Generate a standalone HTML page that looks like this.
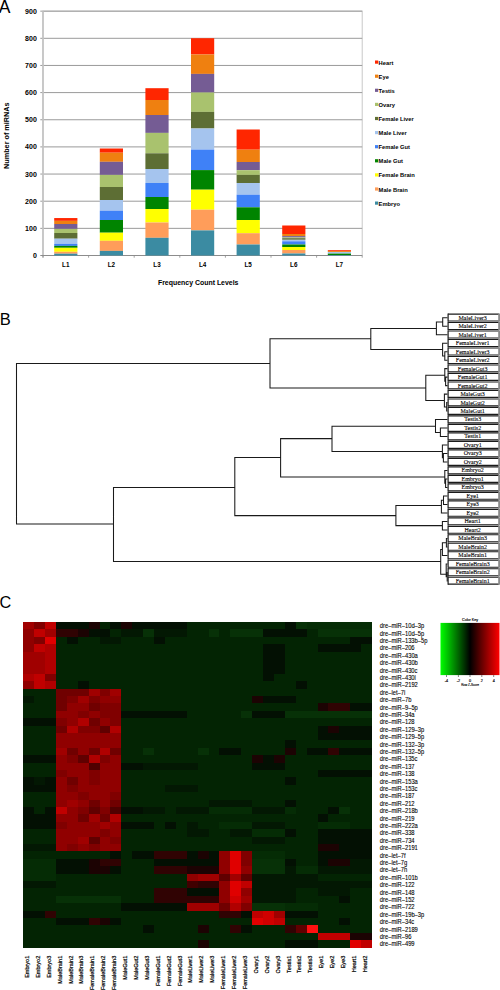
<!DOCTYPE html>
<html><head><meta charset="utf-8"><style>
html,body{margin:0;padding:0;background:#fff;width:500px;height:990px;overflow:hidden}
svg{display:block}
text{font-family:"Liberation Sans",sans-serif;fill:#000}
.b{font-weight:bold}
.sr{font-family:"Liberation Serif",serif}
.r{stroke:#000;stroke-width:0.1px}
.rc{stroke:#000;stroke-width:0.2px}
.ck{stroke:#000;stroke-width:0.15px}
.sr{stroke:#000;stroke-width:0.1px}
</style></head><body>
<svg width="500" height="990" viewBox="0 0 500 990">
<text x="-1.2" y="12.6" font-size="17.5" class="lbl">A</text>
<rect x="43.0" y="11.15" width="319.20" height="244.35" fill="none" stroke="#c8c8c8" stroke-width="1"/>
<line x1="40.3" y1="228.35" x2="362.2" y2="228.35" stroke="#9a9a9a" stroke-width="1"/>
<line x1="40.3" y1="201.20" x2="362.2" y2="201.20" stroke="#9a9a9a" stroke-width="1"/>
<line x1="40.3" y1="174.05" x2="362.2" y2="174.05" stroke="#9a9a9a" stroke-width="1"/>
<line x1="40.3" y1="146.90" x2="362.2" y2="146.90" stroke="#9a9a9a" stroke-width="1"/>
<line x1="40.3" y1="119.75" x2="362.2" y2="119.75" stroke="#9a9a9a" stroke-width="1"/>
<line x1="40.3" y1="92.60" x2="362.2" y2="92.60" stroke="#9a9a9a" stroke-width="1"/>
<line x1="40.3" y1="65.45" x2="362.2" y2="65.45" stroke="#9a9a9a" stroke-width="1"/>
<line x1="40.3" y1="38.30" x2="362.2" y2="38.30" stroke="#9a9a9a" stroke-width="1"/>
<line x1="40.3" y1="11.15" x2="362.2" y2="11.15" stroke="#9a9a9a" stroke-width="1"/>
<line x1="43.0" y1="11.15" x2="43.0" y2="257.50" stroke="#c4c4c4" stroke-width="1.7"/>
<line x1="40.3" y1="255.5" x2="362.2" y2="255.5" stroke="#8c8c8c" stroke-width="1.1"/>
<line x1="43.00" y1="255.5" x2="43.00" y2="257.7" stroke="#8c8c8c" stroke-width="0.8"/>
<line x1="88.60" y1="255.5" x2="88.60" y2="257.7" stroke="#8c8c8c" stroke-width="0.8"/>
<line x1="134.20" y1="255.5" x2="134.20" y2="257.7" stroke="#8c8c8c" stroke-width="0.8"/>
<line x1="179.80" y1="255.5" x2="179.80" y2="257.7" stroke="#8c8c8c" stroke-width="0.8"/>
<line x1="225.40" y1="255.5" x2="225.40" y2="257.7" stroke="#8c8c8c" stroke-width="0.8"/>
<line x1="271.00" y1="255.5" x2="271.00" y2="257.7" stroke="#8c8c8c" stroke-width="0.8"/>
<line x1="316.60" y1="255.5" x2="316.60" y2="257.7" stroke="#8c8c8c" stroke-width="0.8"/>
<line x1="362.20" y1="255.5" x2="362.20" y2="257.7" stroke="#8c8c8c" stroke-width="0.8"/>
<text x="36.8" y="258.00" font-size="7" class="b" text-anchor="end">0</text>
<text x="36.8" y="230.85" font-size="7" class="b" text-anchor="end">100</text>
<text x="36.8" y="203.70" font-size="7" class="b" text-anchor="end">200</text>
<text x="36.8" y="176.55" font-size="7" class="b" text-anchor="end">300</text>
<text x="36.8" y="149.40" font-size="7" class="b" text-anchor="end">400</text>
<text x="36.8" y="122.25" font-size="7" class="b" text-anchor="end">500</text>
<text x="36.8" y="95.10" font-size="7" class="b" text-anchor="end">600</text>
<text x="36.8" y="67.95" font-size="7" class="b" text-anchor="end">700</text>
<text x="36.8" y="40.80" font-size="7" class="b" text-anchor="end">800</text>
<text x="36.8" y="13.65" font-size="7" class="b" text-anchor="end">900</text>
<text transform="translate(8.6,135.7) rotate(-90)" font-size="7.25" class="b" text-anchor="middle">Number of miRNAs</text>
<text x="65.80" y="266.6" font-size="6.3" class="b" text-anchor="middle">L1</text>
<text x="111.40" y="266.6" font-size="6.3" class="b" text-anchor="middle">L2</text>
<text x="157.00" y="266.6" font-size="6.3" class="b" text-anchor="middle">L3</text>
<text x="202.60" y="266.6" font-size="6.3" class="b" text-anchor="middle">L4</text>
<text x="248.20" y="266.6" font-size="6.3" class="b" text-anchor="middle">L5</text>
<text x="293.80" y="266.6" font-size="6.3" class="b" text-anchor="middle">L6</text>
<text x="339.40" y="266.6" font-size="6.3" class="b" text-anchor="middle">L7</text>
<text x="198.2" y="285.2" font-size="6.95" class="b" text-anchor="middle">Frequency Count Levels</text>
<rect x="54.20" y="218.05" width="23.2" height="2.80" fill="#ff2600"/>
<rect x="54.20" y="220.85" width="23.2" height="3.15" fill="#ef8010"/>
<rect x="54.20" y="224.00" width="23.2" height="4.90" fill="#755c94"/>
<rect x="54.20" y="228.90" width="23.2" height="4.10" fill="#a9c26e"/>
<rect x="54.20" y="233.00" width="23.2" height="5.70" fill="#5d6e34"/>
<rect x="54.20" y="238.70" width="23.2" height="5.20" fill="#a5c4ee"/>
<rect x="54.20" y="243.90" width="23.2" height="2.00" fill="#3f81f7"/>
<rect x="54.20" y="245.90" width="23.2" height="1.90" fill="#008400"/>
<rect x="54.20" y="247.80" width="23.2" height="4.00" fill="#ffff00"/>
<rect x="54.20" y="251.80" width="23.2" height="1.90" fill="#ff9d5a"/>
<rect x="54.20" y="253.70" width="23.2" height="1.80" fill="#3b8ba2"/>
<rect x="99.80" y="148.50" width="23.2" height="4.20" fill="#ff2600"/>
<rect x="99.80" y="152.70" width="23.2" height="9.10" fill="#ef8010"/>
<rect x="99.80" y="161.80" width="23.2" height="13.10" fill="#755c94"/>
<rect x="99.80" y="174.90" width="23.2" height="12.10" fill="#a9c26e"/>
<rect x="99.80" y="187.00" width="23.2" height="13.00" fill="#5d6e34"/>
<rect x="99.80" y="200.00" width="23.2" height="10.70" fill="#a5c4ee"/>
<rect x="99.80" y="210.70" width="23.2" height="9.30" fill="#3f81f7"/>
<rect x="99.80" y="220.00" width="23.2" height="12.70" fill="#008400"/>
<rect x="99.80" y="232.70" width="23.2" height="8.10" fill="#ffff00"/>
<rect x="99.80" y="240.80" width="23.2" height="10.10" fill="#ff9d5a"/>
<rect x="99.80" y="250.90" width="23.2" height="4.60" fill="#3b8ba2"/>
<rect x="145.40" y="88.20" width="23.2" height="11.80" fill="#ff2600"/>
<rect x="145.40" y="100.00" width="23.2" height="15.00" fill="#ef8010"/>
<rect x="145.40" y="115.00" width="23.2" height="17.90" fill="#755c94"/>
<rect x="145.40" y="132.90" width="23.2" height="20.40" fill="#a9c26e"/>
<rect x="145.40" y="153.30" width="23.2" height="15.70" fill="#5d6e34"/>
<rect x="145.40" y="169.00" width="23.2" height="14.00" fill="#a5c4ee"/>
<rect x="145.40" y="183.00" width="23.2" height="14.00" fill="#3f81f7"/>
<rect x="145.40" y="197.00" width="23.2" height="12.00" fill="#008400"/>
<rect x="145.40" y="209.00" width="23.2" height="13.50" fill="#ffff00"/>
<rect x="145.40" y="222.50" width="23.2" height="15.30" fill="#ff9d5a"/>
<rect x="145.40" y="237.80" width="23.2" height="17.70" fill="#3b8ba2"/>
<rect x="191.00" y="38.20" width="23.2" height="16.30" fill="#ff2600"/>
<rect x="191.00" y="54.50" width="23.2" height="19.40" fill="#ef8010"/>
<rect x="191.00" y="73.90" width="23.2" height="18.60" fill="#755c94"/>
<rect x="191.00" y="92.50" width="23.2" height="19.40" fill="#a9c26e"/>
<rect x="191.00" y="111.90" width="23.2" height="16.60" fill="#5d6e34"/>
<rect x="191.00" y="128.50" width="23.2" height="21.10" fill="#a5c4ee"/>
<rect x="191.00" y="149.60" width="23.2" height="20.50" fill="#3f81f7"/>
<rect x="191.00" y="170.10" width="23.2" height="19.60" fill="#008400"/>
<rect x="191.00" y="189.70" width="23.2" height="20.00" fill="#ffff00"/>
<rect x="191.00" y="209.70" width="23.2" height="20.70" fill="#ff9d5a"/>
<rect x="191.00" y="230.40" width="23.2" height="25.10" fill="#3b8ba2"/>
<rect x="236.60" y="129.50" width="23.2" height="20.20" fill="#ff2600"/>
<rect x="236.60" y="149.70" width="23.2" height="12.30" fill="#ef8010"/>
<rect x="236.60" y="162.00" width="23.2" height="8.20" fill="#755c94"/>
<rect x="236.60" y="170.20" width="23.2" height="4.70" fill="#a9c26e"/>
<rect x="236.60" y="174.90" width="23.2" height="8.10" fill="#5d6e34"/>
<rect x="236.60" y="183.00" width="23.2" height="11.70" fill="#a5c4ee"/>
<rect x="236.60" y="194.70" width="23.2" height="12.60" fill="#3f81f7"/>
<rect x="236.60" y="207.30" width="23.2" height="12.70" fill="#008400"/>
<rect x="236.60" y="220.00" width="23.2" height="13.20" fill="#ffff00"/>
<rect x="236.60" y="233.20" width="23.2" height="11.30" fill="#ff9d5a"/>
<rect x="236.60" y="244.50" width="23.2" height="11.00" fill="#3b8ba2"/>
<rect x="282.20" y="225.50" width="23.2" height="8.50" fill="#ff2600"/>
<rect x="282.20" y="234.00" width="23.2" height="2.10" fill="#ef8010"/>
<rect x="282.20" y="236.10" width="23.2" height="1.40" fill="#755c94"/>
<rect x="282.20" y="237.50" width="23.2" height="0.70" fill="#a9c26e"/>
<rect x="282.20" y="238.20" width="23.2" height="1.60" fill="#5d6e34"/>
<rect x="282.20" y="239.80" width="23.2" height="1.50" fill="#a5c4ee"/>
<rect x="282.20" y="241.30" width="23.2" height="3.20" fill="#3f81f7"/>
<rect x="282.20" y="244.50" width="23.2" height="2.50" fill="#008400"/>
<rect x="282.20" y="247.00" width="23.2" height="3.00" fill="#ffff00"/>
<rect x="282.20" y="250.00" width="23.2" height="3.50" fill="#ff9d5a"/>
<rect x="282.20" y="253.50" width="23.2" height="2.00" fill="#3b8ba2"/>
<rect x="327.80" y="250.20" width="23.2" height="0.90" fill="#ff2600"/>
<rect x="327.80" y="251.10" width="23.2" height="0.90" fill="#ef8010"/>
<rect x="327.80" y="252.00" width="23.2" height="1.60" fill="#a5c4ee"/>
<rect x="327.80" y="253.60" width="23.2" height="1.40" fill="#008400"/>
<rect x="327.80" y="255.00" width="23.2" height="0.50" fill="#3b8ba2"/>
<rect x="375" y="60.50" width="3.2" height="3.2" fill="#ff2600"/>
<text x="378.6" y="64.60" font-size="5.75" class="b">Heart</text>
<rect x="375" y="74.60" width="3.2" height="3.2" fill="#ef8010"/>
<text x="378.6" y="78.70" font-size="5.75" class="b">Eye</text>
<rect x="375" y="88.70" width="3.2" height="3.2" fill="#755c94"/>
<text x="378.6" y="92.80" font-size="5.75" class="b">Testis</text>
<rect x="375" y="102.80" width="3.2" height="3.2" fill="#a9c26e"/>
<text x="378.6" y="106.90" font-size="5.75" class="b">Ovary</text>
<rect x="375" y="116.90" width="3.2" height="3.2" fill="#5d6e34"/>
<text x="378.6" y="121.00" font-size="5.75" class="b">Female Liver</text>
<rect x="375" y="131.00" width="3.2" height="3.2" fill="#a5c4ee"/>
<text x="378.6" y="135.10" font-size="5.75" class="b">Male Liver</text>
<rect x="375" y="145.10" width="3.2" height="3.2" fill="#3f81f7"/>
<text x="378.6" y="149.20" font-size="5.75" class="b">Female Gut</text>
<rect x="375" y="159.20" width="3.2" height="3.2" fill="#008400"/>
<text x="378.6" y="163.30" font-size="5.75" class="b">Male Gut</text>
<rect x="375" y="173.30" width="3.2" height="3.2" fill="#ffff00"/>
<text x="378.6" y="177.40" font-size="5.75" class="b">Female Brain</text>
<rect x="375" y="187.40" width="3.2" height="3.2" fill="#ff9d5a"/>
<text x="378.6" y="191.50" font-size="5.75" class="b">Male Brain</text>
<rect x="375" y="201.50" width="3.2" height="3.2" fill="#3b8ba2"/>
<text x="378.6" y="205.60" font-size="5.75" class="b">Embryo</text>
<text x="-0.3" y="324.8" font-size="16.5" class="lbl">B</text>
<path d="M16.50 362.90V524.50M16.00 363.40H270.00M270.00 338.20V388.50M269.50 338.70H370.80M370.80 328.00V349.90M370.30 328.50H436.40M436.40 321.50V335.18M435.90 322.00H442.70M442.70 317.20V326.69M442.20 317.70H447.50M442.20 326.19H447.50M435.90 334.68H447.50M370.30 349.40H442.60M442.60 342.67V356.50M442.10 343.17H447.50M442.10 356.00H444.80M444.80 351.16V360.65M444.30 351.66H447.50M444.30 360.15H447.50M269.50 388.00H425.80M425.80 374.80V400.90M425.30 375.30H444.80M444.80 368.14V381.80M444.30 368.64H447.50M444.30 381.30H445.60M445.60 376.63V386.12M445.10 377.13H447.50M445.10 385.62H447.50M425.30 400.40H444.40M444.40 393.61V407.40M443.90 394.11H447.50M443.90 406.90H446.70M446.70 402.10V411.59M446.20 402.60H447.50M446.20 411.09H447.50M16.00 524.00H113.50M113.50 487.00V562.00M113.00 487.50H234.80M234.80 457.00V516.10M234.30 457.50H280.60M280.60 438.10V477.40M280.10 438.60H332.00M332.00 425.80V452.00M331.50 426.30H435.50M435.50 419.08V432.90M435.00 419.58H447.50M435.00 432.40H440.40M440.40 427.57V437.06M439.90 428.07H447.50M439.90 436.56H447.50M331.50 451.50H442.40M442.40 444.55V458.30M441.90 445.05H447.50M441.90 457.80H443.40M443.40 453.04V462.53M442.90 453.54H447.50M442.90 462.03H447.50M280.10 476.90H444.80M444.80 470.02V483.80M444.30 470.52H447.50M444.30 483.30H445.60M445.60 478.51V488.00M445.10 479.01H447.50M445.10 487.50H447.50M234.30 515.60H395.90M395.90 505.00V526.10M395.40 505.50H441.40M441.40 499.70V513.47M440.90 512.97H447.50M440.90 500.20H443.50M443.50 495.49V504.98M443.00 495.99H447.50M443.00 504.48H447.50M395.40 525.60H442.40M442.40 520.96V530.45M441.90 521.46H447.50M441.90 529.95H447.50M113.00 561.50H440.70M440.70 549.00V574.80M440.20 549.50H442.40M442.40 542.20V555.92M441.90 555.42H447.50M441.90 542.70H446.40M446.40 537.94V547.43M445.90 538.44H447.50M445.90 546.93H447.50M440.20 574.30H446.20M446.20 563.41V577.10M445.70 563.91H447.50M445.70 576.60H447.20M447.20 571.90V581.39M446.70 572.40H447.50M446.70 580.89H447.50" stroke="#1a1a1a" stroke-width="1.05" fill="none"/>
<path d="M448.10 314.05H498.9M448.10 321.00H498.9" stroke="#1a1a1a" stroke-width="1.15" fill="none"/>
<path d="M448.10 313.40V321.65" stroke="#1a1a1a" stroke-width="1.2" fill="none"/>
<path d="M499.1 313.40V321.65" stroke="#8a8a8a" stroke-width="1.8" fill="none"/>
<text x="472.7" y="319.60" font-size="6" class="sr" text-anchor="middle">MaleLiver3</text>
<path d="M448.10 322.54H498.9M448.10 329.49H498.9" stroke="#1a1a1a" stroke-width="1.15" fill="none"/>
<path d="M448.10 321.89V330.14" stroke="#1a1a1a" stroke-width="1.2" fill="none"/>
<path d="M499.1 321.89V330.14" stroke="#8a8a8a" stroke-width="1.8" fill="none"/>
<text x="472.7" y="328.09" font-size="6" class="sr" text-anchor="middle">MaleLiver2</text>
<path d="M448.10 331.03H498.9M448.10 337.98H498.9" stroke="#1a1a1a" stroke-width="1.15" fill="none"/>
<path d="M448.10 330.38V338.63" stroke="#1a1a1a" stroke-width="1.2" fill="none"/>
<path d="M499.1 330.38V338.63" stroke="#8a8a8a" stroke-width="1.8" fill="none"/>
<text x="472.7" y="336.58" font-size="6" class="sr" text-anchor="middle">MaleLiver1</text>
<path d="M448.10 339.52H498.9M448.10 346.47H498.9" stroke="#1a1a1a" stroke-width="1.15" fill="none"/>
<path d="M448.10 338.87V347.12" stroke="#1a1a1a" stroke-width="1.2" fill="none"/>
<path d="M499.1 338.87V347.12" stroke="#8a8a8a" stroke-width="1.8" fill="none"/>
<text x="472.7" y="345.07" font-size="6" class="sr" text-anchor="middle">FemaleLiver1</text>
<path d="M448.10 348.01H498.9M448.10 354.96H498.9" stroke="#1a1a1a" stroke-width="1.15" fill="none"/>
<path d="M448.10 347.36V355.61" stroke="#1a1a1a" stroke-width="1.2" fill="none"/>
<path d="M499.1 347.36V355.61" stroke="#8a8a8a" stroke-width="1.8" fill="none"/>
<text x="472.7" y="353.56" font-size="6" class="sr" text-anchor="middle">FemaleLiver3</text>
<path d="M448.10 356.50H498.9M448.10 363.45H498.9" stroke="#1a1a1a" stroke-width="1.15" fill="none"/>
<path d="M448.10 355.85V364.10" stroke="#1a1a1a" stroke-width="1.2" fill="none"/>
<path d="M499.1 355.85V364.10" stroke="#8a8a8a" stroke-width="1.8" fill="none"/>
<text x="472.7" y="362.05" font-size="6" class="sr" text-anchor="middle">FemaleLiver2</text>
<path d="M448.10 364.99H498.9M448.10 371.94H498.9" stroke="#1a1a1a" stroke-width="1.15" fill="none"/>
<path d="M448.10 364.34V372.59" stroke="#1a1a1a" stroke-width="1.2" fill="none"/>
<path d="M499.1 364.34V372.59" stroke="#8a8a8a" stroke-width="1.8" fill="none"/>
<text x="472.7" y="370.54" font-size="6" class="sr" text-anchor="middle">FemaleGut3</text>
<path d="M448.10 373.48H498.9M448.10 380.43H498.9" stroke="#1a1a1a" stroke-width="1.15" fill="none"/>
<path d="M448.10 372.83V381.08" stroke="#1a1a1a" stroke-width="1.2" fill="none"/>
<path d="M499.1 372.83V381.08" stroke="#8a8a8a" stroke-width="1.8" fill="none"/>
<text x="472.7" y="379.03" font-size="6" class="sr" text-anchor="middle">FemaleGut1</text>
<path d="M448.10 381.97H498.9M448.10 388.92H498.9" stroke="#1a1a1a" stroke-width="1.15" fill="none"/>
<path d="M448.10 381.32V389.57" stroke="#1a1a1a" stroke-width="1.2" fill="none"/>
<path d="M499.1 381.32V389.57" stroke="#8a8a8a" stroke-width="1.8" fill="none"/>
<text x="472.7" y="387.52" font-size="6" class="sr" text-anchor="middle">FemaleGut2</text>
<path d="M448.10 390.46H498.9M448.10 397.41H498.9" stroke="#1a1a1a" stroke-width="1.15" fill="none"/>
<path d="M448.10 389.81V398.06" stroke="#1a1a1a" stroke-width="1.2" fill="none"/>
<path d="M499.1 389.81V398.06" stroke="#8a8a8a" stroke-width="1.8" fill="none"/>
<text x="472.7" y="396.01" font-size="6" class="sr" text-anchor="middle">MaleGut3</text>
<path d="M448.10 398.95H498.9M448.10 405.90H498.9" stroke="#1a1a1a" stroke-width="1.15" fill="none"/>
<path d="M448.10 398.30V406.55" stroke="#1a1a1a" stroke-width="1.2" fill="none"/>
<path d="M499.1 398.30V406.55" stroke="#8a8a8a" stroke-width="1.8" fill="none"/>
<text x="472.7" y="404.50" font-size="6" class="sr" text-anchor="middle">MaleGut2</text>
<path d="M448.10 407.44H498.9M448.10 414.39H498.9" stroke="#1a1a1a" stroke-width="1.15" fill="none"/>
<path d="M448.10 406.79V415.04" stroke="#1a1a1a" stroke-width="1.2" fill="none"/>
<path d="M499.1 406.79V415.04" stroke="#8a8a8a" stroke-width="1.8" fill="none"/>
<text x="472.7" y="412.99" font-size="6" class="sr" text-anchor="middle">MaleGut1</text>
<path d="M448.10 415.93H498.9M448.10 422.88H498.9" stroke="#1a1a1a" stroke-width="1.15" fill="none"/>
<path d="M448.10 415.28V423.53" stroke="#1a1a1a" stroke-width="1.2" fill="none"/>
<path d="M499.1 415.28V423.53" stroke="#8a8a8a" stroke-width="1.8" fill="none"/>
<text x="472.7" y="421.48" font-size="6" class="sr" text-anchor="middle">Testis3</text>
<path d="M448.10 424.42H498.9M448.10 431.37H498.9" stroke="#1a1a1a" stroke-width="1.15" fill="none"/>
<path d="M448.10 423.77V432.02" stroke="#1a1a1a" stroke-width="1.2" fill="none"/>
<path d="M499.1 423.77V432.02" stroke="#8a8a8a" stroke-width="1.8" fill="none"/>
<text x="472.7" y="429.97" font-size="6" class="sr" text-anchor="middle">Testis2</text>
<path d="M448.10 432.91H498.9M448.10 439.86H498.9" stroke="#1a1a1a" stroke-width="1.15" fill="none"/>
<path d="M448.10 432.26V440.51" stroke="#1a1a1a" stroke-width="1.2" fill="none"/>
<path d="M499.1 432.26V440.51" stroke="#8a8a8a" stroke-width="1.8" fill="none"/>
<text x="472.7" y="438.46" font-size="6" class="sr" text-anchor="middle">Testis1</text>
<path d="M448.10 441.40H498.9M448.10 448.35H498.9" stroke="#1a1a1a" stroke-width="1.15" fill="none"/>
<path d="M448.10 440.75V449.00" stroke="#1a1a1a" stroke-width="1.2" fill="none"/>
<path d="M499.1 440.75V449.00" stroke="#8a8a8a" stroke-width="1.8" fill="none"/>
<text x="472.7" y="446.95" font-size="6" class="sr" text-anchor="middle">Ovary1</text>
<path d="M448.10 449.89H498.9M448.10 456.84H498.9" stroke="#1a1a1a" stroke-width="1.15" fill="none"/>
<path d="M448.10 449.24V457.49" stroke="#1a1a1a" stroke-width="1.2" fill="none"/>
<path d="M499.1 449.24V457.49" stroke="#8a8a8a" stroke-width="1.8" fill="none"/>
<text x="472.7" y="455.44" font-size="6" class="sr" text-anchor="middle">Ovary3</text>
<path d="M448.10 458.38H498.9M448.10 465.33H498.9" stroke="#1a1a1a" stroke-width="1.15" fill="none"/>
<path d="M448.10 457.73V465.98" stroke="#1a1a1a" stroke-width="1.2" fill="none"/>
<path d="M499.1 457.73V465.98" stroke="#8a8a8a" stroke-width="1.8" fill="none"/>
<text x="472.7" y="463.93" font-size="6" class="sr" text-anchor="middle">Ovary2</text>
<path d="M448.10 466.87H498.9M448.10 473.82H498.9" stroke="#1a1a1a" stroke-width="1.15" fill="none"/>
<path d="M448.10 466.22V474.47" stroke="#1a1a1a" stroke-width="1.2" fill="none"/>
<path d="M499.1 466.22V474.47" stroke="#8a8a8a" stroke-width="1.8" fill="none"/>
<text x="472.7" y="472.42" font-size="6" class="sr" text-anchor="middle">Embryo2</text>
<path d="M448.10 475.36H498.9M448.10 482.31H498.9" stroke="#1a1a1a" stroke-width="1.15" fill="none"/>
<path d="M448.10 474.71V482.96" stroke="#1a1a1a" stroke-width="1.2" fill="none"/>
<path d="M499.1 474.71V482.96" stroke="#8a8a8a" stroke-width="1.8" fill="none"/>
<text x="472.7" y="480.91" font-size="6" class="sr" text-anchor="middle">Embryo1</text>
<path d="M448.10 483.85H498.9M448.10 490.80H498.9" stroke="#1a1a1a" stroke-width="1.15" fill="none"/>
<path d="M448.10 483.20V491.45" stroke="#1a1a1a" stroke-width="1.2" fill="none"/>
<path d="M499.1 483.20V491.45" stroke="#8a8a8a" stroke-width="1.8" fill="none"/>
<text x="472.7" y="489.40" font-size="6" class="sr" text-anchor="middle">Embryo3</text>
<path d="M448.10 492.34H498.9M448.10 499.29H498.9" stroke="#1a1a1a" stroke-width="1.15" fill="none"/>
<path d="M448.10 491.69V499.94" stroke="#1a1a1a" stroke-width="1.2" fill="none"/>
<path d="M499.1 491.69V499.94" stroke="#8a8a8a" stroke-width="1.8" fill="none"/>
<text x="472.7" y="497.89" font-size="6" class="sr" text-anchor="middle">Eye1</text>
<path d="M448.10 500.83H498.9M448.10 507.78H498.9" stroke="#1a1a1a" stroke-width="1.15" fill="none"/>
<path d="M448.10 500.18V508.43" stroke="#1a1a1a" stroke-width="1.2" fill="none"/>
<path d="M499.1 500.18V508.43" stroke="#8a8a8a" stroke-width="1.8" fill="none"/>
<text x="472.7" y="506.38" font-size="6" class="sr" text-anchor="middle">Eye3</text>
<path d="M448.10 509.32H498.9M448.10 516.27H498.9" stroke="#1a1a1a" stroke-width="1.15" fill="none"/>
<path d="M448.10 508.67V516.92" stroke="#1a1a1a" stroke-width="1.2" fill="none"/>
<path d="M499.1 508.67V516.92" stroke="#8a8a8a" stroke-width="1.8" fill="none"/>
<text x="472.7" y="514.87" font-size="6" class="sr" text-anchor="middle">Eye2</text>
<path d="M448.10 517.81H498.9M448.10 524.76H498.9" stroke="#1a1a1a" stroke-width="1.15" fill="none"/>
<path d="M448.10 517.16V525.41" stroke="#1a1a1a" stroke-width="1.2" fill="none"/>
<path d="M499.1 517.16V525.41" stroke="#8a8a8a" stroke-width="1.8" fill="none"/>
<text x="472.7" y="523.36" font-size="6" class="sr" text-anchor="middle">Heart1</text>
<path d="M448.10 526.30H498.9M448.10 533.25H498.9" stroke="#1a1a1a" stroke-width="1.15" fill="none"/>
<path d="M448.10 525.65V533.90" stroke="#1a1a1a" stroke-width="1.2" fill="none"/>
<path d="M499.1 525.65V533.90" stroke="#8a8a8a" stroke-width="1.8" fill="none"/>
<text x="472.7" y="531.85" font-size="6" class="sr" text-anchor="middle">Heart2</text>
<path d="M448.10 534.79H498.9M448.10 541.74H498.9" stroke="#1a1a1a" stroke-width="1.15" fill="none"/>
<path d="M448.10 534.14V542.39" stroke="#1a1a1a" stroke-width="1.2" fill="none"/>
<path d="M499.1 534.14V542.39" stroke="#8a8a8a" stroke-width="1.8" fill="none"/>
<text x="472.7" y="540.34" font-size="6" class="sr" text-anchor="middle">MaleBrain3</text>
<path d="M448.10 543.28H498.9M448.10 550.23H498.9" stroke="#1a1a1a" stroke-width="1.15" fill="none"/>
<path d="M448.10 542.63V550.88" stroke="#1a1a1a" stroke-width="1.2" fill="none"/>
<path d="M499.1 542.63V550.88" stroke="#8a8a8a" stroke-width="1.8" fill="none"/>
<text x="472.7" y="548.83" font-size="6" class="sr" text-anchor="middle">MaleBrain2</text>
<path d="M448.10 551.77H498.9M448.10 558.72H498.9" stroke="#1a1a1a" stroke-width="1.15" fill="none"/>
<path d="M448.10 551.12V559.37" stroke="#1a1a1a" stroke-width="1.2" fill="none"/>
<path d="M499.1 551.12V559.37" stroke="#8a8a8a" stroke-width="1.8" fill="none"/>
<text x="472.7" y="557.32" font-size="6" class="sr" text-anchor="middle">MaleBrain1</text>
<path d="M448.10 560.26H498.9M448.10 567.21H498.9" stroke="#1a1a1a" stroke-width="1.15" fill="none"/>
<path d="M448.10 559.61V567.86" stroke="#1a1a1a" stroke-width="1.2" fill="none"/>
<path d="M499.1 559.61V567.86" stroke="#8a8a8a" stroke-width="1.8" fill="none"/>
<text x="472.7" y="565.81" font-size="6" class="sr" text-anchor="middle">FemaleBrain3</text>
<path d="M448.10 568.75H498.9M448.10 575.70H498.9" stroke="#1a1a1a" stroke-width="1.15" fill="none"/>
<path d="M448.10 568.10V576.35" stroke="#1a1a1a" stroke-width="1.2" fill="none"/>
<path d="M499.1 568.10V576.35" stroke="#8a8a8a" stroke-width="1.8" fill="none"/>
<text x="472.7" y="574.30" font-size="6" class="sr" text-anchor="middle">FemaleBrain2</text>
<path d="M448.10 577.24H498.9M448.10 584.19H498.9" stroke="#1a1a1a" stroke-width="1.15" fill="none"/>
<path d="M448.10 576.59V584.84" stroke="#1a1a1a" stroke-width="1.2" fill="none"/>
<path d="M499.1 576.59V584.84" stroke="#8a8a8a" stroke-width="1.8" fill="none"/>
<text x="472.7" y="582.79" font-size="6" class="sr" text-anchor="middle">FemaleBrain1</text>
<text x="-0.4" y="608" font-size="16.3" class="lbl">C</text>
<rect x="23.25" y="622.0" width="348.75" height="325.60" fill="#032403" shape-rendering="crispEdges"/>
<rect x="23.25" y="622.00" width="10.95" height="7.45" fill="#a00000" shape-rendering="crispEdges"/>
<rect x="34.15" y="622.00" width="10.95" height="7.45" fill="#800000" shape-rendering="crispEdges"/>
<rect x="45.05" y="622.00" width="10.95" height="7.45" fill="#c00000" shape-rendering="crispEdges"/>
<rect x="55.95" y="622.00" width="10.95" height="7.45" fill="#031003" shape-rendering="crispEdges"/>
<rect x="66.84" y="622.00" width="10.95" height="7.45" fill="#031003" shape-rendering="crispEdges"/>
<rect x="77.74" y="622.00" width="10.95" height="7.45" fill="#031003" shape-rendering="crispEdges"/>
<rect x="88.64" y="622.00" width="10.95" height="7.45" fill="#1c0303" shape-rendering="crispEdges"/>
<rect x="110.44" y="622.00" width="10.95" height="7.45" fill="#031003" shape-rendering="crispEdges"/>
<rect x="121.34" y="622.00" width="10.95" height="7.45" fill="#1c0303" shape-rendering="crispEdges"/>
<rect x="132.23" y="622.00" width="10.95" height="7.45" fill="#031003" shape-rendering="crispEdges"/>
<rect x="143.13" y="622.00" width="10.95" height="7.45" fill="#031003" shape-rendering="crispEdges"/>
<rect x="154.03" y="622.00" width="10.95" height="7.45" fill="#031003" shape-rendering="crispEdges"/>
<rect x="164.93" y="622.00" width="10.95" height="7.45" fill="#031003" shape-rendering="crispEdges"/>
<rect x="175.83" y="622.00" width="10.95" height="7.45" fill="#031003" shape-rendering="crispEdges"/>
<rect x="284.81" y="622.00" width="10.95" height="7.45" fill="#031003" shape-rendering="crispEdges"/>
<rect x="295.71" y="622.00" width="10.95" height="7.45" fill="#073107" shape-rendering="crispEdges"/>
<rect x="306.61" y="622.00" width="10.95" height="7.45" fill="#052c05" shape-rendering="crispEdges"/>
<rect x="317.51" y="622.00" width="10.95" height="7.45" fill="#052c05" shape-rendering="crispEdges"/>
<rect x="328.41" y="622.00" width="10.95" height="7.45" fill="#052c05" shape-rendering="crispEdges"/>
<rect x="339.30" y="622.00" width="10.95" height="7.45" fill="#052c05" shape-rendering="crispEdges"/>
<rect x="350.20" y="622.00" width="10.95" height="7.45" fill="#052c05" shape-rendering="crispEdges"/>
<rect x="361.10" y="622.00" width="10.95" height="7.45" fill="#052c05" shape-rendering="crispEdges"/>
<rect x="23.25" y="629.40" width="10.95" height="7.45" fill="#900000" shape-rendering="crispEdges"/>
<rect x="34.15" y="629.40" width="10.95" height="7.45" fill="#c00000" shape-rendering="crispEdges"/>
<rect x="45.05" y="629.40" width="10.95" height="7.45" fill="#a00000" shape-rendering="crispEdges"/>
<rect x="55.95" y="629.40" width="10.95" height="7.45" fill="#300303" shape-rendering="crispEdges"/>
<rect x="66.84" y="629.40" width="10.95" height="7.45" fill="#300303" shape-rendering="crispEdges"/>
<rect x="77.74" y="629.40" width="10.95" height="7.45" fill="#1c0303" shape-rendering="crispEdges"/>
<rect x="88.64" y="629.40" width="10.95" height="7.45" fill="#031003" shape-rendering="crispEdges"/>
<rect x="99.54" y="629.40" width="10.95" height="7.45" fill="#031003" shape-rendering="crispEdges"/>
<rect x="121.34" y="629.40" width="10.95" height="7.45" fill="#031803" shape-rendering="crispEdges"/>
<rect x="132.23" y="629.40" width="10.95" height="7.45" fill="#031803" shape-rendering="crispEdges"/>
<rect x="143.13" y="629.40" width="10.95" height="7.45" fill="#073107" shape-rendering="crispEdges"/>
<rect x="154.03" y="629.40" width="10.95" height="7.45" fill="#031803" shape-rendering="crispEdges"/>
<rect x="164.93" y="629.40" width="10.95" height="7.45" fill="#031803" shape-rendering="crispEdges"/>
<rect x="175.83" y="629.40" width="10.95" height="7.45" fill="#031803" shape-rendering="crispEdges"/>
<rect x="208.52" y="629.40" width="10.95" height="7.45" fill="#073107" shape-rendering="crispEdges"/>
<rect x="230.32" y="629.40" width="10.95" height="7.45" fill="#073107" shape-rendering="crispEdges"/>
<rect x="241.22" y="629.40" width="10.95" height="7.45" fill="#073107" shape-rendering="crispEdges"/>
<rect x="252.12" y="629.40" width="10.95" height="7.45" fill="#073107" shape-rendering="crispEdges"/>
<rect x="263.02" y="629.40" width="10.95" height="7.45" fill="#031003" shape-rendering="crispEdges"/>
<rect x="273.91" y="629.40" width="10.95" height="7.45" fill="#031003" shape-rendering="crispEdges"/>
<rect x="284.81" y="629.40" width="10.95" height="7.45" fill="#031003" shape-rendering="crispEdges"/>
<rect x="295.71" y="629.40" width="10.95" height="7.45" fill="#031003" shape-rendering="crispEdges"/>
<rect x="317.51" y="629.40" width="10.95" height="7.45" fill="#073107" shape-rendering="crispEdges"/>
<rect x="328.41" y="629.40" width="10.95" height="7.45" fill="#073107" shape-rendering="crispEdges"/>
<rect x="339.30" y="629.40" width="10.95" height="7.45" fill="#073107" shape-rendering="crispEdges"/>
<rect x="350.20" y="629.40" width="10.95" height="7.45" fill="#073107" shape-rendering="crispEdges"/>
<rect x="361.10" y="629.40" width="10.95" height="7.45" fill="#073107" shape-rendering="crispEdges"/>
<rect x="23.25" y="636.80" width="10.95" height="7.45" fill="#900000" shape-rendering="crispEdges"/>
<rect x="34.15" y="636.80" width="10.95" height="7.45" fill="#800000" shape-rendering="crispEdges"/>
<rect x="45.05" y="636.80" width="10.95" height="7.45" fill="#e00000" shape-rendering="crispEdges"/>
<rect x="66.84" y="636.80" width="10.95" height="7.45" fill="#031003" shape-rendering="crispEdges"/>
<rect x="99.54" y="636.80" width="10.95" height="7.45" fill="#031803" shape-rendering="crispEdges"/>
<rect x="110.44" y="636.80" width="10.95" height="7.45" fill="#031803" shape-rendering="crispEdges"/>
<rect x="154.03" y="636.80" width="10.95" height="7.45" fill="#031003" shape-rendering="crispEdges"/>
<rect x="350.20" y="636.80" width="10.95" height="7.45" fill="#031003" shape-rendering="crispEdges"/>
<rect x="361.10" y="636.80" width="10.95" height="7.45" fill="#031003" shape-rendering="crispEdges"/>
<rect x="23.25" y="644.20" width="10.95" height="7.45" fill="#900000" shape-rendering="crispEdges"/>
<rect x="34.15" y="644.20" width="10.95" height="7.45" fill="#c00000" shape-rendering="crispEdges"/>
<rect x="45.05" y="644.20" width="10.95" height="7.45" fill="#b00000" shape-rendering="crispEdges"/>
<rect x="263.02" y="644.20" width="10.95" height="7.45" fill="#031003" shape-rendering="crispEdges"/>
<rect x="273.91" y="644.20" width="10.95" height="7.45" fill="#031003" shape-rendering="crispEdges"/>
<rect x="317.51" y="644.20" width="10.95" height="7.45" fill="#031003" shape-rendering="crispEdges"/>
<rect x="328.41" y="644.20" width="10.95" height="7.45" fill="#031003" shape-rendering="crispEdges"/>
<rect x="339.30" y="644.20" width="10.95" height="7.45" fill="#031003" shape-rendering="crispEdges"/>
<rect x="350.20" y="644.20" width="10.95" height="7.45" fill="#031003" shape-rendering="crispEdges"/>
<rect x="23.25" y="651.60" width="10.95" height="7.45" fill="#a00000" shape-rendering="crispEdges"/>
<rect x="34.15" y="651.60" width="10.95" height="7.45" fill="#a00000" shape-rendering="crispEdges"/>
<rect x="45.05" y="651.60" width="10.95" height="7.45" fill="#b00000" shape-rendering="crispEdges"/>
<rect x="263.02" y="651.60" width="10.95" height="7.45" fill="#031003" shape-rendering="crispEdges"/>
<rect x="273.91" y="651.60" width="10.95" height="7.45" fill="#031003" shape-rendering="crispEdges"/>
<rect x="23.25" y="659.00" width="10.95" height="7.45" fill="#a00000" shape-rendering="crispEdges"/>
<rect x="34.15" y="659.00" width="10.95" height="7.45" fill="#a00000" shape-rendering="crispEdges"/>
<rect x="45.05" y="659.00" width="10.95" height="7.45" fill="#b00000" shape-rendering="crispEdges"/>
<rect x="263.02" y="659.00" width="10.95" height="7.45" fill="#031003" shape-rendering="crispEdges"/>
<rect x="273.91" y="659.00" width="10.95" height="7.45" fill="#031003" shape-rendering="crispEdges"/>
<rect x="23.25" y="666.40" width="10.95" height="7.45" fill="#a00000" shape-rendering="crispEdges"/>
<rect x="34.15" y="666.40" width="10.95" height="7.45" fill="#a00000" shape-rendering="crispEdges"/>
<rect x="45.05" y="666.40" width="10.95" height="7.45" fill="#b00000" shape-rendering="crispEdges"/>
<rect x="263.02" y="666.40" width="10.95" height="7.45" fill="#031003" shape-rendering="crispEdges"/>
<rect x="273.91" y="666.40" width="10.95" height="7.45" fill="#031003" shape-rendering="crispEdges"/>
<rect x="23.25" y="673.80" width="10.95" height="7.45" fill="#b00000" shape-rendering="crispEdges"/>
<rect x="34.15" y="673.80" width="10.95" height="7.45" fill="#c00000" shape-rendering="crispEdges"/>
<rect x="45.05" y="673.80" width="10.95" height="7.45" fill="#800000" shape-rendering="crispEdges"/>
<rect x="263.02" y="673.80" width="10.95" height="7.45" fill="#031003" shape-rendering="crispEdges"/>
<rect x="23.25" y="681.20" width="10.95" height="7.45" fill="#900000" shape-rendering="crispEdges"/>
<rect x="34.15" y="681.20" width="10.95" height="7.45" fill="#c00000" shape-rendering="crispEdges"/>
<rect x="45.05" y="681.20" width="10.95" height="7.45" fill="#b00000" shape-rendering="crispEdges"/>
<rect x="77.74" y="681.20" width="10.95" height="7.45" fill="#031003" shape-rendering="crispEdges"/>
<rect x="295.71" y="681.20" width="10.95" height="7.45" fill="#031003" shape-rendering="crispEdges"/>
<rect x="55.95" y="688.60" width="10.95" height="7.45" fill="#700000" shape-rendering="crispEdges"/>
<rect x="66.84" y="688.60" width="10.95" height="7.45" fill="#700000" shape-rendering="crispEdges"/>
<rect x="77.74" y="688.60" width="10.95" height="7.45" fill="#700000" shape-rendering="crispEdges"/>
<rect x="88.64" y="688.60" width="10.95" height="7.45" fill="#a00000" shape-rendering="crispEdges"/>
<rect x="99.54" y="688.60" width="10.95" height="7.45" fill="#800000" shape-rendering="crispEdges"/>
<rect x="110.44" y="688.60" width="10.95" height="7.45" fill="#a00000" shape-rendering="crispEdges"/>
<rect x="23.25" y="696.00" width="10.95" height="7.45" fill="#031803" shape-rendering="crispEdges"/>
<rect x="55.95" y="696.00" width="10.95" height="7.45" fill="#700000" shape-rendering="crispEdges"/>
<rect x="66.84" y="696.00" width="10.95" height="7.45" fill="#800000" shape-rendering="crispEdges"/>
<rect x="77.74" y="696.00" width="10.95" height="7.45" fill="#a00000" shape-rendering="crispEdges"/>
<rect x="88.64" y="696.00" width="10.95" height="7.45" fill="#800000" shape-rendering="crispEdges"/>
<rect x="99.54" y="696.00" width="10.95" height="7.45" fill="#900000" shape-rendering="crispEdges"/>
<rect x="110.44" y="696.00" width="10.95" height="7.45" fill="#900000" shape-rendering="crispEdges"/>
<rect x="252.12" y="696.00" width="10.95" height="7.45" fill="#1c0303" shape-rendering="crispEdges"/>
<rect x="263.02" y="696.00" width="10.95" height="7.45" fill="#031003" shape-rendering="crispEdges"/>
<rect x="273.91" y="696.00" width="10.95" height="7.45" fill="#031003" shape-rendering="crispEdges"/>
<rect x="284.81" y="696.00" width="10.95" height="7.45" fill="#031003" shape-rendering="crispEdges"/>
<rect x="55.95" y="703.40" width="10.95" height="7.45" fill="#700000" shape-rendering="crispEdges"/>
<rect x="66.84" y="703.40" width="10.95" height="7.45" fill="#900000" shape-rendering="crispEdges"/>
<rect x="77.74" y="703.40" width="10.95" height="7.45" fill="#900000" shape-rendering="crispEdges"/>
<rect x="88.64" y="703.40" width="10.95" height="7.45" fill="#700000" shape-rendering="crispEdges"/>
<rect x="99.54" y="703.40" width="10.95" height="7.45" fill="#800000" shape-rendering="crispEdges"/>
<rect x="110.44" y="703.40" width="10.95" height="7.45" fill="#800000" shape-rendering="crispEdges"/>
<rect x="317.51" y="703.40" width="10.95" height="7.45" fill="#1c0303" shape-rendering="crispEdges"/>
<rect x="328.41" y="703.40" width="10.95" height="7.45" fill="#300303" shape-rendering="crispEdges"/>
<rect x="339.30" y="703.40" width="10.95" height="7.45" fill="#300303" shape-rendering="crispEdges"/>
<rect x="350.20" y="703.40" width="10.95" height="7.45" fill="#031003" shape-rendering="crispEdges"/>
<rect x="361.10" y="703.40" width="10.95" height="7.45" fill="#031003" shape-rendering="crispEdges"/>
<rect x="55.95" y="710.80" width="10.95" height="7.45" fill="#900000" shape-rendering="crispEdges"/>
<rect x="66.84" y="710.80" width="10.95" height="7.45" fill="#900000" shape-rendering="crispEdges"/>
<rect x="77.74" y="710.80" width="10.95" height="7.45" fill="#800000" shape-rendering="crispEdges"/>
<rect x="88.64" y="710.80" width="10.95" height="7.45" fill="#900000" shape-rendering="crispEdges"/>
<rect x="99.54" y="710.80" width="10.95" height="7.45" fill="#800000" shape-rendering="crispEdges"/>
<rect x="110.44" y="710.80" width="10.95" height="7.45" fill="#800000" shape-rendering="crispEdges"/>
<rect x="121.34" y="710.80" width="10.95" height="7.45" fill="#031003" shape-rendering="crispEdges"/>
<rect x="132.23" y="710.80" width="10.95" height="7.45" fill="#031003" shape-rendering="crispEdges"/>
<rect x="143.13" y="710.80" width="10.95" height="7.45" fill="#031003" shape-rendering="crispEdges"/>
<rect x="154.03" y="710.80" width="10.95" height="7.45" fill="#031003" shape-rendering="crispEdges"/>
<rect x="164.93" y="710.80" width="10.95" height="7.45" fill="#031003" shape-rendering="crispEdges"/>
<rect x="175.83" y="710.80" width="10.95" height="7.45" fill="#031003" shape-rendering="crispEdges"/>
<rect x="241.22" y="710.80" width="10.95" height="7.45" fill="#073107" shape-rendering="crispEdges"/>
<rect x="252.12" y="710.80" width="10.95" height="7.45" fill="#031003" shape-rendering="crispEdges"/>
<rect x="263.02" y="710.80" width="10.95" height="7.45" fill="#031003" shape-rendering="crispEdges"/>
<rect x="273.91" y="710.80" width="10.95" height="7.45" fill="#031003" shape-rendering="crispEdges"/>
<rect x="284.81" y="710.80" width="10.95" height="7.45" fill="#073107" shape-rendering="crispEdges"/>
<rect x="295.71" y="710.80" width="10.95" height="7.45" fill="#073107" shape-rendering="crispEdges"/>
<rect x="306.61" y="710.80" width="10.95" height="7.45" fill="#073107" shape-rendering="crispEdges"/>
<rect x="317.51" y="710.80" width="10.95" height="7.45" fill="#073107" shape-rendering="crispEdges"/>
<rect x="328.41" y="710.80" width="10.95" height="7.45" fill="#073107" shape-rendering="crispEdges"/>
<rect x="339.30" y="710.80" width="10.95" height="7.45" fill="#073107" shape-rendering="crispEdges"/>
<rect x="350.20" y="710.80" width="10.95" height="7.45" fill="#073107" shape-rendering="crispEdges"/>
<rect x="361.10" y="710.80" width="10.95" height="7.45" fill="#073107" shape-rendering="crispEdges"/>
<rect x="23.25" y="718.20" width="10.95" height="7.45" fill="#031003" shape-rendering="crispEdges"/>
<rect x="34.15" y="718.20" width="10.95" height="7.45" fill="#031003" shape-rendering="crispEdges"/>
<rect x="45.05" y="718.20" width="10.95" height="7.45" fill="#031003" shape-rendering="crispEdges"/>
<rect x="55.95" y="718.20" width="10.95" height="7.45" fill="#800000" shape-rendering="crispEdges"/>
<rect x="66.84" y="718.20" width="10.95" height="7.45" fill="#900000" shape-rendering="crispEdges"/>
<rect x="77.74" y="718.20" width="10.95" height="7.45" fill="#b00000" shape-rendering="crispEdges"/>
<rect x="88.64" y="718.20" width="10.95" height="7.45" fill="#700000" shape-rendering="crispEdges"/>
<rect x="99.54" y="718.20" width="10.95" height="7.45" fill="#900000" shape-rendering="crispEdges"/>
<rect x="110.44" y="718.20" width="10.95" height="7.45" fill="#800000" shape-rendering="crispEdges"/>
<rect x="55.95" y="725.60" width="10.95" height="7.45" fill="#700000" shape-rendering="crispEdges"/>
<rect x="66.84" y="725.60" width="10.95" height="7.45" fill="#b00000" shape-rendering="crispEdges"/>
<rect x="77.74" y="725.60" width="10.95" height="7.45" fill="#800000" shape-rendering="crispEdges"/>
<rect x="88.64" y="725.60" width="10.95" height="7.45" fill="#800000" shape-rendering="crispEdges"/>
<rect x="99.54" y="725.60" width="10.95" height="7.45" fill="#600000" shape-rendering="crispEdges"/>
<rect x="110.44" y="725.60" width="10.95" height="7.45" fill="#b00000" shape-rendering="crispEdges"/>
<rect x="317.51" y="725.60" width="10.95" height="7.45" fill="#031003" shape-rendering="crispEdges"/>
<rect x="328.41" y="725.60" width="10.95" height="7.45" fill="#1c0303" shape-rendering="crispEdges"/>
<rect x="339.30" y="725.60" width="10.95" height="7.45" fill="#031003" shape-rendering="crispEdges"/>
<rect x="350.20" y="725.60" width="10.95" height="7.45" fill="#031003" shape-rendering="crispEdges"/>
<rect x="361.10" y="725.60" width="10.95" height="7.45" fill="#031003" shape-rendering="crispEdges"/>
<rect x="55.95" y="733.00" width="10.95" height="7.45" fill="#900000" shape-rendering="crispEdges"/>
<rect x="66.84" y="733.00" width="10.95" height="7.45" fill="#900000" shape-rendering="crispEdges"/>
<rect x="77.74" y="733.00" width="10.95" height="7.45" fill="#900000" shape-rendering="crispEdges"/>
<rect x="88.64" y="733.00" width="10.95" height="7.45" fill="#900000" shape-rendering="crispEdges"/>
<rect x="99.54" y="733.00" width="10.95" height="7.45" fill="#900000" shape-rendering="crispEdges"/>
<rect x="110.44" y="733.00" width="10.95" height="7.45" fill="#900000" shape-rendering="crispEdges"/>
<rect x="317.51" y="733.00" width="10.95" height="7.45" fill="#031003" shape-rendering="crispEdges"/>
<rect x="328.41" y="733.00" width="10.95" height="7.45" fill="#031003" shape-rendering="crispEdges"/>
<rect x="339.30" y="733.00" width="10.95" height="7.45" fill="#031003" shape-rendering="crispEdges"/>
<rect x="350.20" y="733.00" width="10.95" height="7.45" fill="#031003" shape-rendering="crispEdges"/>
<rect x="361.10" y="733.00" width="10.95" height="7.45" fill="#031003" shape-rendering="crispEdges"/>
<rect x="55.95" y="740.40" width="10.95" height="7.45" fill="#900000" shape-rendering="crispEdges"/>
<rect x="66.84" y="740.40" width="10.95" height="7.45" fill="#900000" shape-rendering="crispEdges"/>
<rect x="77.74" y="740.40" width="10.95" height="7.45" fill="#900000" shape-rendering="crispEdges"/>
<rect x="88.64" y="740.40" width="10.95" height="7.45" fill="#900000" shape-rendering="crispEdges"/>
<rect x="99.54" y="740.40" width="10.95" height="7.45" fill="#900000" shape-rendering="crispEdges"/>
<rect x="110.44" y="740.40" width="10.95" height="7.45" fill="#900000" shape-rendering="crispEdges"/>
<rect x="284.81" y="740.40" width="10.95" height="7.45" fill="#031003" shape-rendering="crispEdges"/>
<rect x="55.95" y="747.80" width="10.95" height="7.45" fill="#a00000" shape-rendering="crispEdges"/>
<rect x="66.84" y="747.80" width="10.95" height="7.45" fill="#700000" shape-rendering="crispEdges"/>
<rect x="77.74" y="747.80" width="10.95" height="7.45" fill="#900000" shape-rendering="crispEdges"/>
<rect x="88.64" y="747.80" width="10.95" height="7.45" fill="#700000" shape-rendering="crispEdges"/>
<rect x="99.54" y="747.80" width="10.95" height="7.45" fill="#b00000" shape-rendering="crispEdges"/>
<rect x="110.44" y="747.80" width="10.95" height="7.45" fill="#700000" shape-rendering="crispEdges"/>
<rect x="143.13" y="747.80" width="10.95" height="7.45" fill="#073107" shape-rendering="crispEdges"/>
<rect x="197.62" y="747.80" width="10.95" height="7.45" fill="#073107" shape-rendering="crispEdges"/>
<rect x="219.42" y="747.80" width="10.95" height="7.45" fill="#031003" shape-rendering="crispEdges"/>
<rect x="230.32" y="747.80" width="10.95" height="7.45" fill="#031003" shape-rendering="crispEdges"/>
<rect x="284.81" y="747.80" width="10.95" height="7.45" fill="#1c0303" shape-rendering="crispEdges"/>
<rect x="306.61" y="747.80" width="10.95" height="7.45" fill="#031003" shape-rendering="crispEdges"/>
<rect x="317.51" y="747.80" width="10.95" height="7.45" fill="#031003" shape-rendering="crispEdges"/>
<rect x="328.41" y="747.80" width="10.95" height="7.45" fill="#300303" shape-rendering="crispEdges"/>
<rect x="339.30" y="747.80" width="10.95" height="7.45" fill="#031003" shape-rendering="crispEdges"/>
<rect x="350.20" y="747.80" width="10.95" height="7.45" fill="#031003" shape-rendering="crispEdges"/>
<rect x="361.10" y="747.80" width="10.95" height="7.45" fill="#031003" shape-rendering="crispEdges"/>
<rect x="23.25" y="755.20" width="10.95" height="7.45" fill="#031003" shape-rendering="crispEdges"/>
<rect x="34.15" y="755.20" width="10.95" height="7.45" fill="#031003" shape-rendering="crispEdges"/>
<rect x="45.05" y="755.20" width="10.95" height="7.45" fill="#031003" shape-rendering="crispEdges"/>
<rect x="55.95" y="755.20" width="10.95" height="7.45" fill="#900000" shape-rendering="crispEdges"/>
<rect x="66.84" y="755.20" width="10.95" height="7.45" fill="#800000" shape-rendering="crispEdges"/>
<rect x="77.74" y="755.20" width="10.95" height="7.45" fill="#600000" shape-rendering="crispEdges"/>
<rect x="88.64" y="755.20" width="10.95" height="7.45" fill="#b00000" shape-rendering="crispEdges"/>
<rect x="99.54" y="755.20" width="10.95" height="7.45" fill="#800000" shape-rendering="crispEdges"/>
<rect x="110.44" y="755.20" width="10.95" height="7.45" fill="#900000" shape-rendering="crispEdges"/>
<rect x="252.12" y="755.20" width="10.95" height="7.45" fill="#1c0303" shape-rendering="crispEdges"/>
<rect x="263.02" y="755.20" width="10.95" height="7.45" fill="#031003" shape-rendering="crispEdges"/>
<rect x="273.91" y="755.20" width="10.95" height="7.45" fill="#1c0303" shape-rendering="crispEdges"/>
<rect x="55.95" y="762.60" width="10.95" height="7.45" fill="#900000" shape-rendering="crispEdges"/>
<rect x="66.84" y="762.60" width="10.95" height="7.45" fill="#900000" shape-rendering="crispEdges"/>
<rect x="77.74" y="762.60" width="10.95" height="7.45" fill="#900000" shape-rendering="crispEdges"/>
<rect x="88.64" y="762.60" width="10.95" height="7.45" fill="#500000" shape-rendering="crispEdges"/>
<rect x="99.54" y="762.60" width="10.95" height="7.45" fill="#900000" shape-rendering="crispEdges"/>
<rect x="110.44" y="762.60" width="10.95" height="7.45" fill="#900000" shape-rendering="crispEdges"/>
<rect x="121.34" y="762.60" width="10.95" height="7.45" fill="#031003" shape-rendering="crispEdges"/>
<rect x="132.23" y="762.60" width="10.95" height="7.45" fill="#031003" shape-rendering="crispEdges"/>
<rect x="143.13" y="762.60" width="10.95" height="7.45" fill="#031803" shape-rendering="crispEdges"/>
<rect x="154.03" y="762.60" width="10.95" height="7.45" fill="#031803" shape-rendering="crispEdges"/>
<rect x="164.93" y="762.60" width="10.95" height="7.45" fill="#031803" shape-rendering="crispEdges"/>
<rect x="175.83" y="762.60" width="10.95" height="7.45" fill="#031803" shape-rendering="crispEdges"/>
<rect x="186.73" y="762.60" width="10.95" height="7.45" fill="#031803" shape-rendering="crispEdges"/>
<rect x="252.12" y="762.60" width="10.95" height="7.45" fill="#031003" shape-rendering="crispEdges"/>
<rect x="263.02" y="762.60" width="10.95" height="7.45" fill="#031003" shape-rendering="crispEdges"/>
<rect x="273.91" y="762.60" width="10.95" height="7.45" fill="#031003" shape-rendering="crispEdges"/>
<rect x="55.95" y="770.00" width="10.95" height="7.45" fill="#800000" shape-rendering="crispEdges"/>
<rect x="66.84" y="770.00" width="10.95" height="7.45" fill="#900000" shape-rendering="crispEdges"/>
<rect x="77.74" y="770.00" width="10.95" height="7.45" fill="#900000" shape-rendering="crispEdges"/>
<rect x="88.64" y="770.00" width="10.95" height="7.45" fill="#800000" shape-rendering="crispEdges"/>
<rect x="99.54" y="770.00" width="10.95" height="7.45" fill="#900000" shape-rendering="crispEdges"/>
<rect x="110.44" y="770.00" width="10.95" height="7.45" fill="#900000" shape-rendering="crispEdges"/>
<rect x="317.51" y="770.00" width="10.95" height="7.45" fill="#031003" shape-rendering="crispEdges"/>
<rect x="328.41" y="770.00" width="10.95" height="7.45" fill="#031003" shape-rendering="crispEdges"/>
<rect x="339.30" y="770.00" width="10.95" height="7.45" fill="#031003" shape-rendering="crispEdges"/>
<rect x="350.20" y="770.00" width="10.95" height="7.45" fill="#031003" shape-rendering="crispEdges"/>
<rect x="361.10" y="770.00" width="10.95" height="7.45" fill="#031003" shape-rendering="crispEdges"/>
<rect x="23.25" y="777.40" width="10.95" height="7.45" fill="#031003" shape-rendering="crispEdges"/>
<rect x="34.15" y="777.40" width="10.95" height="7.45" fill="#031803" shape-rendering="crispEdges"/>
<rect x="45.05" y="777.40" width="10.95" height="7.45" fill="#031003" shape-rendering="crispEdges"/>
<rect x="55.95" y="777.40" width="10.95" height="7.45" fill="#900000" shape-rendering="crispEdges"/>
<rect x="66.84" y="777.40" width="10.95" height="7.45" fill="#700000" shape-rendering="crispEdges"/>
<rect x="77.74" y="777.40" width="10.95" height="7.45" fill="#900000" shape-rendering="crispEdges"/>
<rect x="88.64" y="777.40" width="10.95" height="7.45" fill="#800000" shape-rendering="crispEdges"/>
<rect x="99.54" y="777.40" width="10.95" height="7.45" fill="#900000" shape-rendering="crispEdges"/>
<rect x="110.44" y="777.40" width="10.95" height="7.45" fill="#900000" shape-rendering="crispEdges"/>
<rect x="284.81" y="777.40" width="10.95" height="7.45" fill="#031003" shape-rendering="crispEdges"/>
<rect x="23.25" y="784.80" width="10.95" height="7.45" fill="#031003" shape-rendering="crispEdges"/>
<rect x="34.15" y="784.80" width="10.95" height="7.45" fill="#031003" shape-rendering="crispEdges"/>
<rect x="45.05" y="784.80" width="10.95" height="7.45" fill="#031003" shape-rendering="crispEdges"/>
<rect x="55.95" y="784.80" width="10.95" height="7.45" fill="#900000" shape-rendering="crispEdges"/>
<rect x="66.84" y="784.80" width="10.95" height="7.45" fill="#800000" shape-rendering="crispEdges"/>
<rect x="77.74" y="784.80" width="10.95" height="7.45" fill="#900000" shape-rendering="crispEdges"/>
<rect x="88.64" y="784.80" width="10.95" height="7.45" fill="#900000" shape-rendering="crispEdges"/>
<rect x="99.54" y="784.80" width="10.95" height="7.45" fill="#900000" shape-rendering="crispEdges"/>
<rect x="110.44" y="784.80" width="10.95" height="7.45" fill="#900000" shape-rendering="crispEdges"/>
<rect x="164.93" y="784.80" width="10.95" height="7.45" fill="#031803" shape-rendering="crispEdges"/>
<rect x="175.83" y="784.80" width="10.95" height="7.45" fill="#031803" shape-rendering="crispEdges"/>
<rect x="186.73" y="784.80" width="10.95" height="7.45" fill="#031803" shape-rendering="crispEdges"/>
<rect x="55.95" y="792.20" width="10.95" height="7.45" fill="#900000" shape-rendering="crispEdges"/>
<rect x="66.84" y="792.20" width="10.95" height="7.45" fill="#900000" shape-rendering="crispEdges"/>
<rect x="77.74" y="792.20" width="10.95" height="7.45" fill="#800000" shape-rendering="crispEdges"/>
<rect x="88.64" y="792.20" width="10.95" height="7.45" fill="#900000" shape-rendering="crispEdges"/>
<rect x="99.54" y="792.20" width="10.95" height="7.45" fill="#900000" shape-rendering="crispEdges"/>
<rect x="110.44" y="792.20" width="10.95" height="7.45" fill="#800000" shape-rendering="crispEdges"/>
<rect x="55.95" y="799.60" width="10.95" height="7.45" fill="#900000" shape-rendering="crispEdges"/>
<rect x="66.84" y="799.60" width="10.95" height="7.45" fill="#a00000" shape-rendering="crispEdges"/>
<rect x="77.74" y="799.60" width="10.95" height="7.45" fill="#900000" shape-rendering="crispEdges"/>
<rect x="88.64" y="799.60" width="10.95" height="7.45" fill="#700000" shape-rendering="crispEdges"/>
<rect x="99.54" y="799.60" width="10.95" height="7.45" fill="#900000" shape-rendering="crispEdges"/>
<rect x="110.44" y="799.60" width="10.95" height="7.45" fill="#700000" shape-rendering="crispEdges"/>
<rect x="208.52" y="799.60" width="10.95" height="7.45" fill="#031803" shape-rendering="crispEdges"/>
<rect x="219.42" y="799.60" width="10.95" height="7.45" fill="#031803" shape-rendering="crispEdges"/>
<rect x="230.32" y="799.60" width="10.95" height="7.45" fill="#031803" shape-rendering="crispEdges"/>
<rect x="241.22" y="799.60" width="10.95" height="7.45" fill="#031803" shape-rendering="crispEdges"/>
<rect x="284.81" y="799.60" width="10.95" height="7.45" fill="#031003" shape-rendering="crispEdges"/>
<rect x="23.25" y="807.00" width="10.95" height="7.45" fill="#031003" shape-rendering="crispEdges"/>
<rect x="45.05" y="807.00" width="10.95" height="7.45" fill="#031003" shape-rendering="crispEdges"/>
<rect x="55.95" y="807.00" width="10.95" height="7.45" fill="#c00000" shape-rendering="crispEdges"/>
<rect x="66.84" y="807.00" width="10.95" height="7.45" fill="#900000" shape-rendering="crispEdges"/>
<rect x="77.74" y="807.00" width="10.95" height="7.45" fill="#800000" shape-rendering="crispEdges"/>
<rect x="88.64" y="807.00" width="10.95" height="7.45" fill="#600000" shape-rendering="crispEdges"/>
<rect x="99.54" y="807.00" width="10.95" height="7.45" fill="#800000" shape-rendering="crispEdges"/>
<rect x="110.44" y="807.00" width="10.95" height="7.45" fill="#500000" shape-rendering="crispEdges"/>
<rect x="121.34" y="807.00" width="10.95" height="7.45" fill="#031003" shape-rendering="crispEdges"/>
<rect x="132.23" y="807.00" width="10.95" height="7.45" fill="#031003" shape-rendering="crispEdges"/>
<rect x="143.13" y="807.00" width="10.95" height="7.45" fill="#031803" shape-rendering="crispEdges"/>
<rect x="154.03" y="807.00" width="10.95" height="7.45" fill="#031803" shape-rendering="crispEdges"/>
<rect x="175.83" y="807.00" width="10.95" height="7.45" fill="#031803" shape-rendering="crispEdges"/>
<rect x="186.73" y="807.00" width="10.95" height="7.45" fill="#031803" shape-rendering="crispEdges"/>
<rect x="197.62" y="807.00" width="10.95" height="7.45" fill="#031803" shape-rendering="crispEdges"/>
<rect x="208.52" y="807.00" width="10.95" height="7.45" fill="#052c05" shape-rendering="crispEdges"/>
<rect x="219.42" y="807.00" width="10.95" height="7.45" fill="#052c05" shape-rendering="crispEdges"/>
<rect x="230.32" y="807.00" width="10.95" height="7.45" fill="#052c05" shape-rendering="crispEdges"/>
<rect x="241.22" y="807.00" width="10.95" height="7.45" fill="#052c05" shape-rendering="crispEdges"/>
<rect x="252.12" y="807.00" width="10.95" height="7.45" fill="#031803" shape-rendering="crispEdges"/>
<rect x="263.02" y="807.00" width="10.95" height="7.45" fill="#031803" shape-rendering="crispEdges"/>
<rect x="273.91" y="807.00" width="10.95" height="7.45" fill="#031803" shape-rendering="crispEdges"/>
<rect x="284.81" y="807.00" width="10.95" height="7.45" fill="#052c05" shape-rendering="crispEdges"/>
<rect x="328.41" y="807.00" width="10.95" height="7.45" fill="#031003" shape-rendering="crispEdges"/>
<rect x="339.30" y="807.00" width="10.95" height="7.45" fill="#073107" shape-rendering="crispEdges"/>
<rect x="23.25" y="814.40" width="10.95" height="7.45" fill="#031003" shape-rendering="crispEdges"/>
<rect x="34.15" y="814.40" width="10.95" height="7.45" fill="#031003" shape-rendering="crispEdges"/>
<rect x="45.05" y="814.40" width="10.95" height="7.45" fill="#031003" shape-rendering="crispEdges"/>
<rect x="55.95" y="814.40" width="10.95" height="7.45" fill="#900000" shape-rendering="crispEdges"/>
<rect x="66.84" y="814.40" width="10.95" height="7.45" fill="#900000" shape-rendering="crispEdges"/>
<rect x="77.74" y="814.40" width="10.95" height="7.45" fill="#700000" shape-rendering="crispEdges"/>
<rect x="88.64" y="814.40" width="10.95" height="7.45" fill="#a00000" shape-rendering="crispEdges"/>
<rect x="99.54" y="814.40" width="10.95" height="7.45" fill="#700000" shape-rendering="crispEdges"/>
<rect x="110.44" y="814.40" width="10.95" height="7.45" fill="#b00000" shape-rendering="crispEdges"/>
<rect x="317.51" y="814.40" width="10.95" height="7.45" fill="#031003" shape-rendering="crispEdges"/>
<rect x="23.25" y="821.80" width="10.95" height="7.45" fill="#031003" shape-rendering="crispEdges"/>
<rect x="34.15" y="821.80" width="10.95" height="7.45" fill="#031003" shape-rendering="crispEdges"/>
<rect x="45.05" y="821.80" width="10.95" height="7.45" fill="#031003" shape-rendering="crispEdges"/>
<rect x="55.95" y="821.80" width="10.95" height="7.45" fill="#800000" shape-rendering="crispEdges"/>
<rect x="66.84" y="821.80" width="10.95" height="7.45" fill="#900000" shape-rendering="crispEdges"/>
<rect x="77.74" y="821.80" width="10.95" height="7.45" fill="#900000" shape-rendering="crispEdges"/>
<rect x="88.64" y="821.80" width="10.95" height="7.45" fill="#900000" shape-rendering="crispEdges"/>
<rect x="99.54" y="821.80" width="10.95" height="7.45" fill="#a00000" shape-rendering="crispEdges"/>
<rect x="110.44" y="821.80" width="10.95" height="7.45" fill="#900000" shape-rendering="crispEdges"/>
<rect x="121.34" y="821.80" width="10.95" height="7.45" fill="#031003" shape-rendering="crispEdges"/>
<rect x="132.23" y="821.80" width="10.95" height="7.45" fill="#031003" shape-rendering="crispEdges"/>
<rect x="143.13" y="821.80" width="10.95" height="7.45" fill="#031003" shape-rendering="crispEdges"/>
<rect x="164.93" y="821.80" width="10.95" height="7.45" fill="#031003" shape-rendering="crispEdges"/>
<rect x="186.73" y="821.80" width="10.95" height="7.45" fill="#031803" shape-rendering="crispEdges"/>
<rect x="219.42" y="821.80" width="10.95" height="7.45" fill="#052c05" shape-rendering="crispEdges"/>
<rect x="230.32" y="821.80" width="10.95" height="7.45" fill="#052c05" shape-rendering="crispEdges"/>
<rect x="241.22" y="821.80" width="10.95" height="7.45" fill="#052c05" shape-rendering="crispEdges"/>
<rect x="252.12" y="821.80" width="10.95" height="7.45" fill="#031803" shape-rendering="crispEdges"/>
<rect x="263.02" y="821.80" width="10.95" height="7.45" fill="#031803" shape-rendering="crispEdges"/>
<rect x="273.91" y="821.80" width="10.95" height="7.45" fill="#031803" shape-rendering="crispEdges"/>
<rect x="317.51" y="821.80" width="10.95" height="7.45" fill="#052c05" shape-rendering="crispEdges"/>
<rect x="328.41" y="821.80" width="10.95" height="7.45" fill="#052c05" shape-rendering="crispEdges"/>
<rect x="339.30" y="821.80" width="10.95" height="7.45" fill="#052c05" shape-rendering="crispEdges"/>
<rect x="55.95" y="829.20" width="10.95" height="7.45" fill="#900000" shape-rendering="crispEdges"/>
<rect x="66.84" y="829.20" width="10.95" height="7.45" fill="#900000" shape-rendering="crispEdges"/>
<rect x="77.74" y="829.20" width="10.95" height="7.45" fill="#900000" shape-rendering="crispEdges"/>
<rect x="88.64" y="829.20" width="10.95" height="7.45" fill="#900000" shape-rendering="crispEdges"/>
<rect x="99.54" y="829.20" width="10.95" height="7.45" fill="#800000" shape-rendering="crispEdges"/>
<rect x="110.44" y="829.20" width="10.95" height="7.45" fill="#900000" shape-rendering="crispEdges"/>
<rect x="186.73" y="829.20" width="10.95" height="7.45" fill="#031803" shape-rendering="crispEdges"/>
<rect x="197.62" y="829.20" width="10.95" height="7.45" fill="#031803" shape-rendering="crispEdges"/>
<rect x="230.32" y="829.20" width="10.95" height="7.45" fill="#031803" shape-rendering="crispEdges"/>
<rect x="241.22" y="829.20" width="10.95" height="7.45" fill="#031803" shape-rendering="crispEdges"/>
<rect x="252.12" y="829.20" width="10.95" height="7.45" fill="#052c05" shape-rendering="crispEdges"/>
<rect x="263.02" y="829.20" width="10.95" height="7.45" fill="#052c05" shape-rendering="crispEdges"/>
<rect x="273.91" y="829.20" width="10.95" height="7.45" fill="#052c05" shape-rendering="crispEdges"/>
<rect x="284.81" y="829.20" width="10.95" height="7.45" fill="#031003" shape-rendering="crispEdges"/>
<rect x="317.51" y="829.20" width="10.95" height="7.45" fill="#031003" shape-rendering="crispEdges"/>
<rect x="328.41" y="829.20" width="10.95" height="7.45" fill="#031003" shape-rendering="crispEdges"/>
<rect x="339.30" y="829.20" width="10.95" height="7.45" fill="#031003" shape-rendering="crispEdges"/>
<rect x="350.20" y="829.20" width="10.95" height="7.45" fill="#031003" shape-rendering="crispEdges"/>
<rect x="361.10" y="829.20" width="10.95" height="7.45" fill="#031003" shape-rendering="crispEdges"/>
<rect x="55.95" y="836.60" width="10.95" height="7.45" fill="#900000" shape-rendering="crispEdges"/>
<rect x="66.84" y="836.60" width="10.95" height="7.45" fill="#900000" shape-rendering="crispEdges"/>
<rect x="77.74" y="836.60" width="10.95" height="7.45" fill="#a00000" shape-rendering="crispEdges"/>
<rect x="88.64" y="836.60" width="10.95" height="7.45" fill="#600000" shape-rendering="crispEdges"/>
<rect x="99.54" y="836.60" width="10.95" height="7.45" fill="#900000" shape-rendering="crispEdges"/>
<rect x="110.44" y="836.60" width="10.95" height="7.45" fill="#800000" shape-rendering="crispEdges"/>
<rect x="252.12" y="836.60" width="10.95" height="7.45" fill="#031803" shape-rendering="crispEdges"/>
<rect x="263.02" y="836.60" width="10.95" height="7.45" fill="#031803" shape-rendering="crispEdges"/>
<rect x="273.91" y="836.60" width="10.95" height="7.45" fill="#031803" shape-rendering="crispEdges"/>
<rect x="317.51" y="836.60" width="10.95" height="7.45" fill="#031003" shape-rendering="crispEdges"/>
<rect x="328.41" y="836.60" width="10.95" height="7.45" fill="#031003" shape-rendering="crispEdges"/>
<rect x="339.30" y="836.60" width="10.95" height="7.45" fill="#031003" shape-rendering="crispEdges"/>
<rect x="350.20" y="836.60" width="10.95" height="7.45" fill="#031003" shape-rendering="crispEdges"/>
<rect x="361.10" y="836.60" width="10.95" height="7.45" fill="#031003" shape-rendering="crispEdges"/>
<rect x="23.25" y="844.00" width="10.95" height="7.45" fill="#031803" shape-rendering="crispEdges"/>
<rect x="34.15" y="844.00" width="10.95" height="7.45" fill="#031803" shape-rendering="crispEdges"/>
<rect x="45.05" y="844.00" width="10.95" height="7.45" fill="#031803" shape-rendering="crispEdges"/>
<rect x="55.95" y="844.00" width="10.95" height="7.45" fill="#900000" shape-rendering="crispEdges"/>
<rect x="66.84" y="844.00" width="10.95" height="7.45" fill="#800000" shape-rendering="crispEdges"/>
<rect x="77.74" y="844.00" width="10.95" height="7.45" fill="#900000" shape-rendering="crispEdges"/>
<rect x="88.64" y="844.00" width="10.95" height="7.45" fill="#800000" shape-rendering="crispEdges"/>
<rect x="99.54" y="844.00" width="10.95" height="7.45" fill="#900000" shape-rendering="crispEdges"/>
<rect x="110.44" y="844.00" width="10.95" height="7.45" fill="#900000" shape-rendering="crispEdges"/>
<rect x="317.51" y="844.00" width="10.95" height="7.45" fill="#1c0303" shape-rendering="crispEdges"/>
<rect x="328.41" y="844.00" width="10.95" height="7.45" fill="#1c0303" shape-rendering="crispEdges"/>
<rect x="339.30" y="844.00" width="10.95" height="7.45" fill="#031003" shape-rendering="crispEdges"/>
<rect x="350.20" y="844.00" width="10.95" height="7.45" fill="#031003" shape-rendering="crispEdges"/>
<rect x="361.10" y="844.00" width="10.95" height="7.45" fill="#031003" shape-rendering="crispEdges"/>
<rect x="110.44" y="851.40" width="10.95" height="7.45" fill="#031003" shape-rendering="crispEdges"/>
<rect x="132.23" y="851.40" width="10.95" height="7.45" fill="#031003" shape-rendering="crispEdges"/>
<rect x="143.13" y="851.40" width="10.95" height="7.45" fill="#031003" shape-rendering="crispEdges"/>
<rect x="154.03" y="851.40" width="10.95" height="7.45" fill="#300303" shape-rendering="crispEdges"/>
<rect x="164.93" y="851.40" width="10.95" height="7.45" fill="#300303" shape-rendering="crispEdges"/>
<rect x="175.83" y="851.40" width="10.95" height="7.45" fill="#300303" shape-rendering="crispEdges"/>
<rect x="186.73" y="851.40" width="10.95" height="7.45" fill="#031003" shape-rendering="crispEdges"/>
<rect x="197.62" y="851.40" width="10.95" height="7.45" fill="#1c0303" shape-rendering="crispEdges"/>
<rect x="208.52" y="851.40" width="10.95" height="7.45" fill="#031003" shape-rendering="crispEdges"/>
<rect x="219.42" y="851.40" width="10.95" height="7.45" fill="#900000" shape-rendering="crispEdges"/>
<rect x="230.32" y="851.40" width="10.95" height="7.45" fill="#e00000" shape-rendering="crispEdges"/>
<rect x="241.22" y="851.40" width="10.95" height="7.45" fill="#800000" shape-rendering="crispEdges"/>
<rect x="252.12" y="851.40" width="10.95" height="7.45" fill="#052c05" shape-rendering="crispEdges"/>
<rect x="263.02" y="851.40" width="10.95" height="7.45" fill="#052c05" shape-rendering="crispEdges"/>
<rect x="273.91" y="851.40" width="10.95" height="7.45" fill="#052c05" shape-rendering="crispEdges"/>
<rect x="317.51" y="851.40" width="10.95" height="7.45" fill="#031003" shape-rendering="crispEdges"/>
<rect x="328.41" y="851.40" width="10.95" height="7.45" fill="#031003" shape-rendering="crispEdges"/>
<rect x="339.30" y="851.40" width="10.95" height="7.45" fill="#031003" shape-rendering="crispEdges"/>
<rect x="350.20" y="851.40" width="10.95" height="7.45" fill="#031003" shape-rendering="crispEdges"/>
<rect x="361.10" y="851.40" width="10.95" height="7.45" fill="#031003" shape-rendering="crispEdges"/>
<rect x="23.25" y="858.80" width="10.95" height="7.45" fill="#052c05" shape-rendering="crispEdges"/>
<rect x="34.15" y="858.80" width="10.95" height="7.45" fill="#052c05" shape-rendering="crispEdges"/>
<rect x="45.05" y="858.80" width="10.95" height="7.45" fill="#052c05" shape-rendering="crispEdges"/>
<rect x="55.95" y="858.80" width="10.95" height="7.45" fill="#031003" shape-rendering="crispEdges"/>
<rect x="66.84" y="858.80" width="10.95" height="7.45" fill="#031003" shape-rendering="crispEdges"/>
<rect x="77.74" y="858.80" width="10.95" height="7.45" fill="#031003" shape-rendering="crispEdges"/>
<rect x="88.64" y="858.80" width="10.95" height="7.45" fill="#1c0303" shape-rendering="crispEdges"/>
<rect x="99.54" y="858.80" width="10.95" height="7.45" fill="#300303" shape-rendering="crispEdges"/>
<rect x="110.44" y="858.80" width="10.95" height="7.45" fill="#300303" shape-rendering="crispEdges"/>
<rect x="154.03" y="858.80" width="10.95" height="7.45" fill="#031003" shape-rendering="crispEdges"/>
<rect x="164.93" y="858.80" width="10.95" height="7.45" fill="#031003" shape-rendering="crispEdges"/>
<rect x="175.83" y="858.80" width="10.95" height="7.45" fill="#031003" shape-rendering="crispEdges"/>
<rect x="186.73" y="858.80" width="10.95" height="7.45" fill="#031003" shape-rendering="crispEdges"/>
<rect x="197.62" y="858.80" width="10.95" height="7.45" fill="#031003" shape-rendering="crispEdges"/>
<rect x="208.52" y="858.80" width="10.95" height="7.45" fill="#031003" shape-rendering="crispEdges"/>
<rect x="219.42" y="858.80" width="10.95" height="7.45" fill="#900000" shape-rendering="crispEdges"/>
<rect x="230.32" y="858.80" width="10.95" height="7.45" fill="#e00000" shape-rendering="crispEdges"/>
<rect x="241.22" y="858.80" width="10.95" height="7.45" fill="#800000" shape-rendering="crispEdges"/>
<rect x="252.12" y="858.80" width="10.95" height="7.45" fill="#073107" shape-rendering="crispEdges"/>
<rect x="263.02" y="858.80" width="10.95" height="7.45" fill="#073107" shape-rendering="crispEdges"/>
<rect x="273.91" y="858.80" width="10.95" height="7.45" fill="#073107" shape-rendering="crispEdges"/>
<rect x="284.81" y="858.80" width="10.95" height="7.45" fill="#031003" shape-rendering="crispEdges"/>
<rect x="317.51" y="858.80" width="10.95" height="7.45" fill="#031003" shape-rendering="crispEdges"/>
<rect x="328.41" y="858.80" width="10.95" height="7.45" fill="#1c0303" shape-rendering="crispEdges"/>
<rect x="339.30" y="858.80" width="10.95" height="7.45" fill="#1c0303" shape-rendering="crispEdges"/>
<rect x="350.20" y="858.80" width="10.95" height="7.45" fill="#031803" shape-rendering="crispEdges"/>
<rect x="361.10" y="858.80" width="10.95" height="7.45" fill="#031803" shape-rendering="crispEdges"/>
<rect x="23.25" y="866.20" width="10.95" height="7.45" fill="#052c05" shape-rendering="crispEdges"/>
<rect x="34.15" y="866.20" width="10.95" height="7.45" fill="#052c05" shape-rendering="crispEdges"/>
<rect x="45.05" y="866.20" width="10.95" height="7.45" fill="#052c05" shape-rendering="crispEdges"/>
<rect x="55.95" y="866.20" width="10.95" height="7.45" fill="#031003" shape-rendering="crispEdges"/>
<rect x="66.84" y="866.20" width="10.95" height="7.45" fill="#031003" shape-rendering="crispEdges"/>
<rect x="77.74" y="866.20" width="10.95" height="7.45" fill="#031003" shape-rendering="crispEdges"/>
<rect x="88.64" y="866.20" width="10.95" height="7.45" fill="#1c0303" shape-rendering="crispEdges"/>
<rect x="99.54" y="866.20" width="10.95" height="7.45" fill="#1c0303" shape-rendering="crispEdges"/>
<rect x="110.44" y="866.20" width="10.95" height="7.45" fill="#031003" shape-rendering="crispEdges"/>
<rect x="154.03" y="866.20" width="10.95" height="7.45" fill="#300303" shape-rendering="crispEdges"/>
<rect x="164.93" y="866.20" width="10.95" height="7.45" fill="#300303" shape-rendering="crispEdges"/>
<rect x="175.83" y="866.20" width="10.95" height="7.45" fill="#300303" shape-rendering="crispEdges"/>
<rect x="186.73" y="866.20" width="10.95" height="7.45" fill="#1c0303" shape-rendering="crispEdges"/>
<rect x="197.62" y="866.20" width="10.95" height="7.45" fill="#1c0303" shape-rendering="crispEdges"/>
<rect x="208.52" y="866.20" width="10.95" height="7.45" fill="#1c0303" shape-rendering="crispEdges"/>
<rect x="219.42" y="866.20" width="10.95" height="7.45" fill="#900000" shape-rendering="crispEdges"/>
<rect x="230.32" y="866.20" width="10.95" height="7.45" fill="#e00000" shape-rendering="crispEdges"/>
<rect x="241.22" y="866.20" width="10.95" height="7.45" fill="#900000" shape-rendering="crispEdges"/>
<rect x="252.12" y="866.20" width="10.95" height="7.45" fill="#073107" shape-rendering="crispEdges"/>
<rect x="263.02" y="866.20" width="10.95" height="7.45" fill="#073107" shape-rendering="crispEdges"/>
<rect x="273.91" y="866.20" width="10.95" height="7.45" fill="#073107" shape-rendering="crispEdges"/>
<rect x="284.81" y="866.20" width="10.95" height="7.45" fill="#031803" shape-rendering="crispEdges"/>
<rect x="295.71" y="866.20" width="10.95" height="7.45" fill="#052c05" shape-rendering="crispEdges"/>
<rect x="306.61" y="866.20" width="10.95" height="7.45" fill="#052c05" shape-rendering="crispEdges"/>
<rect x="317.51" y="866.20" width="10.95" height="7.45" fill="#031803" shape-rendering="crispEdges"/>
<rect x="328.41" y="866.20" width="10.95" height="7.45" fill="#031803" shape-rendering="crispEdges"/>
<rect x="339.30" y="866.20" width="10.95" height="7.45" fill="#031803" shape-rendering="crispEdges"/>
<rect x="350.20" y="866.20" width="10.95" height="7.45" fill="#031803" shape-rendering="crispEdges"/>
<rect x="361.10" y="866.20" width="10.95" height="7.45" fill="#031803" shape-rendering="crispEdges"/>
<rect x="23.25" y="873.60" width="10.95" height="7.45" fill="#052c05" shape-rendering="crispEdges"/>
<rect x="34.15" y="873.60" width="10.95" height="7.45" fill="#052c05" shape-rendering="crispEdges"/>
<rect x="45.05" y="873.60" width="10.95" height="7.45" fill="#052c05" shape-rendering="crispEdges"/>
<rect x="186.73" y="873.60" width="10.95" height="7.45" fill="#900000" shape-rendering="crispEdges"/>
<rect x="197.62" y="873.60" width="10.95" height="7.45" fill="#a00000" shape-rendering="crispEdges"/>
<rect x="208.52" y="873.60" width="10.95" height="7.45" fill="#a00000" shape-rendering="crispEdges"/>
<rect x="219.42" y="873.60" width="10.95" height="7.45" fill="#600000" shape-rendering="crispEdges"/>
<rect x="230.32" y="873.60" width="10.95" height="7.45" fill="#a00000" shape-rendering="crispEdges"/>
<rect x="241.22" y="873.60" width="10.95" height="7.45" fill="#600000" shape-rendering="crispEdges"/>
<rect x="252.12" y="873.60" width="10.95" height="7.45" fill="#031803" shape-rendering="crispEdges"/>
<rect x="263.02" y="873.60" width="10.95" height="7.45" fill="#031803" shape-rendering="crispEdges"/>
<rect x="273.91" y="873.60" width="10.95" height="7.45" fill="#031803" shape-rendering="crispEdges"/>
<rect x="284.81" y="873.60" width="10.95" height="7.45" fill="#031803" shape-rendering="crispEdges"/>
<rect x="295.71" y="873.60" width="10.95" height="7.45" fill="#031803" shape-rendering="crispEdges"/>
<rect x="306.61" y="873.60" width="10.95" height="7.45" fill="#031803" shape-rendering="crispEdges"/>
<rect x="23.25" y="881.00" width="10.95" height="7.45" fill="#031803" shape-rendering="crispEdges"/>
<rect x="34.15" y="881.00" width="10.95" height="7.45" fill="#031803" shape-rendering="crispEdges"/>
<rect x="45.05" y="881.00" width="10.95" height="7.45" fill="#031803" shape-rendering="crispEdges"/>
<rect x="186.73" y="881.00" width="10.95" height="7.45" fill="#400000" shape-rendering="crispEdges"/>
<rect x="197.62" y="881.00" width="10.95" height="7.45" fill="#300303" shape-rendering="crispEdges"/>
<rect x="208.52" y="881.00" width="10.95" height="7.45" fill="#300303" shape-rendering="crispEdges"/>
<rect x="219.42" y="881.00" width="10.95" height="7.45" fill="#900000" shape-rendering="crispEdges"/>
<rect x="230.32" y="881.00" width="10.95" height="7.45" fill="#e00000" shape-rendering="crispEdges"/>
<rect x="241.22" y="881.00" width="10.95" height="7.45" fill="#c00000" shape-rendering="crispEdges"/>
<rect x="252.12" y="881.00" width="10.95" height="7.45" fill="#031803" shape-rendering="crispEdges"/>
<rect x="263.02" y="881.00" width="10.95" height="7.45" fill="#031803" shape-rendering="crispEdges"/>
<rect x="273.91" y="881.00" width="10.95" height="7.45" fill="#031803" shape-rendering="crispEdges"/>
<rect x="284.81" y="881.00" width="10.95" height="7.45" fill="#031803" shape-rendering="crispEdges"/>
<rect x="295.71" y="881.00" width="10.95" height="7.45" fill="#031803" shape-rendering="crispEdges"/>
<rect x="306.61" y="881.00" width="10.95" height="7.45" fill="#031803" shape-rendering="crispEdges"/>
<rect x="317.51" y="881.00" width="10.95" height="7.45" fill="#031803" shape-rendering="crispEdges"/>
<rect x="328.41" y="881.00" width="10.95" height="7.45" fill="#031803" shape-rendering="crispEdges"/>
<rect x="339.30" y="881.00" width="10.95" height="7.45" fill="#031803" shape-rendering="crispEdges"/>
<rect x="350.20" y="881.00" width="10.95" height="7.45" fill="#031803" shape-rendering="crispEdges"/>
<rect x="361.10" y="881.00" width="10.95" height="7.45" fill="#031803" shape-rendering="crispEdges"/>
<rect x="154.03" y="888.40" width="10.95" height="7.45" fill="#300303" shape-rendering="crispEdges"/>
<rect x="164.93" y="888.40" width="10.95" height="7.45" fill="#300303" shape-rendering="crispEdges"/>
<rect x="175.83" y="888.40" width="10.95" height="7.45" fill="#300303" shape-rendering="crispEdges"/>
<rect x="186.73" y="888.40" width="10.95" height="7.45" fill="#031003" shape-rendering="crispEdges"/>
<rect x="197.62" y="888.40" width="10.95" height="7.45" fill="#031003" shape-rendering="crispEdges"/>
<rect x="208.52" y="888.40" width="10.95" height="7.45" fill="#031003" shape-rendering="crispEdges"/>
<rect x="219.42" y="888.40" width="10.95" height="7.45" fill="#900000" shape-rendering="crispEdges"/>
<rect x="230.32" y="888.40" width="10.95" height="7.45" fill="#e00000" shape-rendering="crispEdges"/>
<rect x="241.22" y="888.40" width="10.95" height="7.45" fill="#900000" shape-rendering="crispEdges"/>
<rect x="252.12" y="888.40" width="10.95" height="7.45" fill="#031803" shape-rendering="crispEdges"/>
<rect x="263.02" y="888.40" width="10.95" height="7.45" fill="#031803" shape-rendering="crispEdges"/>
<rect x="273.91" y="888.40" width="10.95" height="7.45" fill="#031803" shape-rendering="crispEdges"/>
<rect x="284.81" y="888.40" width="10.95" height="7.45" fill="#031803" shape-rendering="crispEdges"/>
<rect x="317.51" y="888.40" width="10.95" height="7.45" fill="#031803" shape-rendering="crispEdges"/>
<rect x="328.41" y="888.40" width="10.95" height="7.45" fill="#031803" shape-rendering="crispEdges"/>
<rect x="339.30" y="888.40" width="10.95" height="7.45" fill="#031803" shape-rendering="crispEdges"/>
<rect x="55.95" y="895.80" width="10.95" height="7.45" fill="#073107" shape-rendering="crispEdges"/>
<rect x="66.84" y="895.80" width="10.95" height="7.45" fill="#073107" shape-rendering="crispEdges"/>
<rect x="77.74" y="895.80" width="10.95" height="7.45" fill="#073107" shape-rendering="crispEdges"/>
<rect x="88.64" y="895.80" width="10.95" height="7.45" fill="#073107" shape-rendering="crispEdges"/>
<rect x="99.54" y="895.80" width="10.95" height="7.45" fill="#073107" shape-rendering="crispEdges"/>
<rect x="110.44" y="895.80" width="10.95" height="7.45" fill="#073107" shape-rendering="crispEdges"/>
<rect x="154.03" y="895.80" width="10.95" height="7.45" fill="#300303" shape-rendering="crispEdges"/>
<rect x="164.93" y="895.80" width="10.95" height="7.45" fill="#300303" shape-rendering="crispEdges"/>
<rect x="175.83" y="895.80" width="10.95" height="7.45" fill="#300303" shape-rendering="crispEdges"/>
<rect x="186.73" y="895.80" width="10.95" height="7.45" fill="#300303" shape-rendering="crispEdges"/>
<rect x="197.62" y="895.80" width="10.95" height="7.45" fill="#300303" shape-rendering="crispEdges"/>
<rect x="208.52" y="895.80" width="10.95" height="7.45" fill="#300303" shape-rendering="crispEdges"/>
<rect x="219.42" y="895.80" width="10.95" height="7.45" fill="#900000" shape-rendering="crispEdges"/>
<rect x="230.32" y="895.80" width="10.95" height="7.45" fill="#d00000" shape-rendering="crispEdges"/>
<rect x="241.22" y="895.80" width="10.95" height="7.45" fill="#a00000" shape-rendering="crispEdges"/>
<rect x="252.12" y="895.80" width="10.95" height="7.45" fill="#031803" shape-rendering="crispEdges"/>
<rect x="263.02" y="895.80" width="10.95" height="7.45" fill="#031803" shape-rendering="crispEdges"/>
<rect x="273.91" y="895.80" width="10.95" height="7.45" fill="#031803" shape-rendering="crispEdges"/>
<rect x="284.81" y="895.80" width="10.95" height="7.45" fill="#031803" shape-rendering="crispEdges"/>
<rect x="339.30" y="895.80" width="10.95" height="7.45" fill="#031003" shape-rendering="crispEdges"/>
<rect x="121.34" y="903.20" width="10.95" height="7.45" fill="#031003" shape-rendering="crispEdges"/>
<rect x="132.23" y="903.20" width="10.95" height="7.45" fill="#031003" shape-rendering="crispEdges"/>
<rect x="143.13" y="903.20" width="10.95" height="7.45" fill="#031003" shape-rendering="crispEdges"/>
<rect x="154.03" y="903.20" width="10.95" height="7.45" fill="#031003" shape-rendering="crispEdges"/>
<rect x="164.93" y="903.20" width="10.95" height="7.45" fill="#031003" shape-rendering="crispEdges"/>
<rect x="175.83" y="903.20" width="10.95" height="7.45" fill="#031003" shape-rendering="crispEdges"/>
<rect x="186.73" y="903.20" width="10.95" height="7.45" fill="#a00000" shape-rendering="crispEdges"/>
<rect x="197.62" y="903.20" width="10.95" height="7.45" fill="#a00000" shape-rendering="crispEdges"/>
<rect x="208.52" y="903.20" width="10.95" height="7.45" fill="#a00000" shape-rendering="crispEdges"/>
<rect x="219.42" y="903.20" width="10.95" height="7.45" fill="#700000" shape-rendering="crispEdges"/>
<rect x="230.32" y="903.20" width="10.95" height="7.45" fill="#b00000" shape-rendering="crispEdges"/>
<rect x="241.22" y="903.20" width="10.95" height="7.45" fill="#800000" shape-rendering="crispEdges"/>
<rect x="252.12" y="903.20" width="10.95" height="7.45" fill="#073107" shape-rendering="crispEdges"/>
<rect x="263.02" y="903.20" width="10.95" height="7.45" fill="#073107" shape-rendering="crispEdges"/>
<rect x="273.91" y="903.20" width="10.95" height="7.45" fill="#073107" shape-rendering="crispEdges"/>
<rect x="284.81" y="903.20" width="10.95" height="7.45" fill="#052c05" shape-rendering="crispEdges"/>
<rect x="295.71" y="903.20" width="10.95" height="7.45" fill="#052c05" shape-rendering="crispEdges"/>
<rect x="306.61" y="903.20" width="10.95" height="7.45" fill="#052c05" shape-rendering="crispEdges"/>
<rect x="23.25" y="910.60" width="10.95" height="7.45" fill="#031003" shape-rendering="crispEdges"/>
<rect x="34.15" y="910.60" width="10.95" height="7.45" fill="#031003" shape-rendering="crispEdges"/>
<rect x="45.05" y="910.60" width="10.95" height="7.45" fill="#300303" shape-rendering="crispEdges"/>
<rect x="219.42" y="910.60" width="10.95" height="7.45" fill="#300303" shape-rendering="crispEdges"/>
<rect x="230.32" y="910.60" width="10.95" height="7.45" fill="#300303" shape-rendering="crispEdges"/>
<rect x="241.22" y="910.60" width="10.95" height="7.45" fill="#031003" shape-rendering="crispEdges"/>
<rect x="252.12" y="910.60" width="10.95" height="7.45" fill="#c00000" shape-rendering="crispEdges"/>
<rect x="263.02" y="910.60" width="10.95" height="7.45" fill="#d00000" shape-rendering="crispEdges"/>
<rect x="273.91" y="910.60" width="10.95" height="7.45" fill="#a00000" shape-rendering="crispEdges"/>
<rect x="284.81" y="910.60" width="10.95" height="7.45" fill="#031003" shape-rendering="crispEdges"/>
<rect x="295.71" y="910.60" width="10.95" height="7.45" fill="#031003" shape-rendering="crispEdges"/>
<rect x="306.61" y="910.60" width="10.95" height="7.45" fill="#031003" shape-rendering="crispEdges"/>
<rect x="55.95" y="918.00" width="10.95" height="7.45" fill="#031003" shape-rendering="crispEdges"/>
<rect x="66.84" y="918.00" width="10.95" height="7.45" fill="#031003" shape-rendering="crispEdges"/>
<rect x="77.74" y="918.00" width="10.95" height="7.45" fill="#031003" shape-rendering="crispEdges"/>
<rect x="88.64" y="918.00" width="10.95" height="7.45" fill="#300303" shape-rendering="crispEdges"/>
<rect x="99.54" y="918.00" width="10.95" height="7.45" fill="#1c0303" shape-rendering="crispEdges"/>
<rect x="110.44" y="918.00" width="10.95" height="7.45" fill="#031003" shape-rendering="crispEdges"/>
<rect x="252.12" y="918.00" width="10.95" height="7.45" fill="#e00000" shape-rendering="crispEdges"/>
<rect x="263.02" y="918.00" width="10.95" height="7.45" fill="#d00000" shape-rendering="crispEdges"/>
<rect x="273.91" y="918.00" width="10.95" height="7.45" fill="#c00000" shape-rendering="crispEdges"/>
<rect x="339.30" y="918.00" width="10.95" height="7.45" fill="#031003" shape-rendering="crispEdges"/>
<rect x="143.13" y="925.40" width="10.95" height="7.45" fill="#031003" shape-rendering="crispEdges"/>
<rect x="197.62" y="925.40" width="10.95" height="7.45" fill="#1c0303" shape-rendering="crispEdges"/>
<rect x="230.32" y="925.40" width="10.95" height="7.45" fill="#300303" shape-rendering="crispEdges"/>
<rect x="241.22" y="925.40" width="10.95" height="7.45" fill="#031003" shape-rendering="crispEdges"/>
<rect x="284.81" y="925.40" width="10.95" height="7.45" fill="#300303" shape-rendering="crispEdges"/>
<rect x="295.71" y="925.40" width="10.95" height="7.45" fill="#600000" shape-rendering="crispEdges"/>
<rect x="306.61" y="925.40" width="10.95" height="7.45" fill="#ff1010" shape-rendering="crispEdges"/>
<rect x="317.51" y="932.80" width="10.95" height="7.45" fill="#c00000" shape-rendering="crispEdges"/>
<rect x="328.41" y="932.80" width="10.95" height="7.45" fill="#c00000" shape-rendering="crispEdges"/>
<rect x="339.30" y="932.80" width="10.95" height="7.45" fill="#c00000" shape-rendering="crispEdges"/>
<rect x="350.20" y="932.80" width="10.95" height="7.45" fill="#1c0303" shape-rendering="crispEdges"/>
<rect x="361.10" y="932.80" width="10.95" height="7.45" fill="#1c0303" shape-rendering="crispEdges"/>
<rect x="197.62" y="940.20" width="10.95" height="7.45" fill="#1c0303" shape-rendering="crispEdges"/>
<rect x="284.81" y="940.20" width="10.95" height="7.45" fill="#031003" shape-rendering="crispEdges"/>
<rect x="295.71" y="940.20" width="10.95" height="7.45" fill="#031003" shape-rendering="crispEdges"/>
<rect x="306.61" y="940.20" width="10.95" height="7.45" fill="#031003" shape-rendering="crispEdges"/>
<rect x="350.20" y="940.20" width="10.95" height="7.45" fill="#e00000" shape-rendering="crispEdges"/>
<rect x="361.10" y="940.20" width="10.95" height="7.45" fill="#c00000" shape-rendering="crispEdges"/>
<text x="379.8" y="628.20" font-size="6.4" class="r" textLength="44.48" lengthAdjust="spacingAndGlyphs">dre–miR–10d–3p</text>
<text x="379.8" y="635.60" font-size="6.4" class="r" textLength="44.48" lengthAdjust="spacingAndGlyphs">dre–miR–10d–5p</text>
<text x="379.8" y="643.00" font-size="6.4" class="r" textLength="47.70" lengthAdjust="spacingAndGlyphs">dre–miR–133b–5p</text>
<text x="379.8" y="650.40" font-size="6.4" class="r" textLength="34.81" lengthAdjust="spacingAndGlyphs">dre–miR–206</text>
<text x="379.8" y="657.80" font-size="6.4" class="r" textLength="38.03" lengthAdjust="spacingAndGlyphs">dre–miR–430a</text>
<text x="379.8" y="665.20" font-size="6.4" class="r" textLength="38.03" lengthAdjust="spacingAndGlyphs">dre–miR–430b</text>
<text x="379.8" y="672.60" font-size="6.4" class="r" textLength="37.70" lengthAdjust="spacingAndGlyphs">dre–miR–430c</text>
<text x="379.8" y="680.00" font-size="6.4" class="r" textLength="36.09" lengthAdjust="spacingAndGlyphs">dre–miR–430i</text>
<text x="379.8" y="687.40" font-size="6.4" class="r" textLength="38.03" lengthAdjust="spacingAndGlyphs">dre–miR–2192</text>
<text x="379.8" y="694.80" font-size="6.4" class="r" textLength="25.47" lengthAdjust="spacingAndGlyphs">dre–let–7i</text>
<text x="379.8" y="702.20" font-size="6.4" class="r" textLength="31.58" lengthAdjust="spacingAndGlyphs">dre–miR–7b</text>
<text x="379.8" y="709.60" font-size="6.4" class="r" textLength="38.03" lengthAdjust="spacingAndGlyphs">dre–miR–9–5p</text>
<text x="379.8" y="717.00" font-size="6.4" class="r" textLength="34.81" lengthAdjust="spacingAndGlyphs">dre–miR–34a</text>
<text x="379.8" y="724.40" font-size="6.4" class="r" textLength="34.81" lengthAdjust="spacingAndGlyphs">dre–miR–128</text>
<text x="379.8" y="731.80" font-size="6.4" class="r" textLength="44.48" lengthAdjust="spacingAndGlyphs">dre–miR–129–3p</text>
<text x="379.8" y="739.20" font-size="6.4" class="r" textLength="44.48" lengthAdjust="spacingAndGlyphs">dre–miR–129–5p</text>
<text x="379.8" y="746.60" font-size="6.4" class="r" textLength="44.48" lengthAdjust="spacingAndGlyphs">dre–miR–132–3p</text>
<text x="379.8" y="754.00" font-size="6.4" class="r" textLength="44.48" lengthAdjust="spacingAndGlyphs">dre–miR–132–5p</text>
<text x="379.8" y="761.40" font-size="6.4" class="r" textLength="37.70" lengthAdjust="spacingAndGlyphs">dre–miR–135c</text>
<text x="379.8" y="768.80" font-size="6.4" class="r" textLength="34.81" lengthAdjust="spacingAndGlyphs">dre–miR–137</text>
<text x="379.8" y="776.20" font-size="6.4" class="r" textLength="34.81" lengthAdjust="spacingAndGlyphs">dre–miR–138</text>
<text x="379.8" y="783.60" font-size="6.4" class="r" textLength="38.03" lengthAdjust="spacingAndGlyphs">dre–miR–153a</text>
<text x="379.8" y="791.00" font-size="6.4" class="r" textLength="37.70" lengthAdjust="spacingAndGlyphs">dre–miR–153c</text>
<text x="379.8" y="798.40" font-size="6.4" class="r" textLength="34.81" lengthAdjust="spacingAndGlyphs">dre–miR–187</text>
<text x="379.8" y="805.80" font-size="6.4" class="r" textLength="34.81" lengthAdjust="spacingAndGlyphs">dre–miR–212</text>
<text x="379.8" y="813.20" font-size="6.4" class="r" textLength="38.03" lengthAdjust="spacingAndGlyphs">dre–miR–218b</text>
<text x="379.8" y="820.60" font-size="6.4" class="r" textLength="34.81" lengthAdjust="spacingAndGlyphs">dre–miR–219</text>
<text x="379.8" y="828.00" font-size="6.4" class="r" textLength="38.03" lengthAdjust="spacingAndGlyphs">dre–miR–222a</text>
<text x="379.8" y="835.40" font-size="6.4" class="r" textLength="34.81" lengthAdjust="spacingAndGlyphs">dre–miR–338</text>
<text x="379.8" y="842.80" font-size="6.4" class="r" textLength="34.81" lengthAdjust="spacingAndGlyphs">dre–miR–734</text>
<text x="379.8" y="850.20" font-size="6.4" class="r" textLength="38.03" lengthAdjust="spacingAndGlyphs">dre–miR–2191</text>
<text x="379.8" y="857.60" font-size="6.4" class="r" textLength="25.80" lengthAdjust="spacingAndGlyphs">dre–let–7f</text>
<text x="379.8" y="865.00" font-size="6.4" class="r" textLength="27.41" lengthAdjust="spacingAndGlyphs">dre–let–7g</text>
<text x="379.8" y="872.40" font-size="6.4" class="r" textLength="27.41" lengthAdjust="spacingAndGlyphs">dre–let–7h</text>
<text x="379.8" y="879.80" font-size="6.4" class="r" textLength="38.03" lengthAdjust="spacingAndGlyphs">dre–miR–101b</text>
<text x="379.8" y="887.20" font-size="6.4" class="r" textLength="34.81" lengthAdjust="spacingAndGlyphs">dre–miR–122</text>
<text x="379.8" y="894.60" font-size="6.4" class="r" textLength="34.81" lengthAdjust="spacingAndGlyphs">dre–miR–148</text>
<text x="379.8" y="902.00" font-size="6.4" class="r" textLength="34.81" lengthAdjust="spacingAndGlyphs">dre–miR–152</text>
<text x="379.8" y="909.40" font-size="6.4" class="r" textLength="34.81" lengthAdjust="spacingAndGlyphs">dre–miR–722</text>
<text x="379.8" y="916.80" font-size="6.4" class="r" textLength="44.48" lengthAdjust="spacingAndGlyphs">dre–miR–19b–3p</text>
<text x="379.8" y="924.20" font-size="6.4" class="r" textLength="34.48" lengthAdjust="spacingAndGlyphs">dre–miR–34c</text>
<text x="379.8" y="931.60" font-size="6.4" class="r" textLength="38.03" lengthAdjust="spacingAndGlyphs">dre–miR–2189</text>
<text x="379.8" y="939.00" font-size="6.4" class="r" textLength="31.58" lengthAdjust="spacingAndGlyphs">dre–miR–96</text>
<text x="379.8" y="946.40" font-size="6.4" class="r" textLength="34.81" lengthAdjust="spacingAndGlyphs">dre–miR–499</text>
<text transform="translate(29.00,955.8) rotate(-90)" font-size="5.5" class="rc" text-anchor="end">Embryo1</text>
<text transform="translate(39.90,955.8) rotate(-90)" font-size="5.5" class="rc" text-anchor="end">Embryo2</text>
<text transform="translate(50.80,955.8) rotate(-90)" font-size="5.5" class="rc" text-anchor="end">Embryo3</text>
<text transform="translate(61.69,955.8) rotate(-90)" font-size="5.5" class="rc" text-anchor="end">MaleBrain1</text>
<text transform="translate(72.59,955.8) rotate(-90)" font-size="5.5" class="rc" text-anchor="end">MaleBrain2</text>
<text transform="translate(83.49,955.8) rotate(-90)" font-size="5.5" class="rc" text-anchor="end">MaleBrain3</text>
<text transform="translate(94.39,955.8) rotate(-90)" font-size="5.5" class="rc" text-anchor="end">FemaleBrain1</text>
<text transform="translate(105.29,955.8) rotate(-90)" font-size="5.5" class="rc" text-anchor="end">FemaleBrain2</text>
<text transform="translate(116.19,955.8) rotate(-90)" font-size="5.5" class="rc" text-anchor="end">FemaleBrain3</text>
<text transform="translate(127.09,955.8) rotate(-90)" font-size="5.5" class="rc" text-anchor="end">MaleGut1</text>
<text transform="translate(137.98,955.8) rotate(-90)" font-size="5.5" class="rc" text-anchor="end">MaleGut2</text>
<text transform="translate(148.88,955.8) rotate(-90)" font-size="5.5" class="rc" text-anchor="end">MaleGut3</text>
<text transform="translate(159.78,955.8) rotate(-90)" font-size="5.5" class="rc" text-anchor="end">FemaleGut1</text>
<text transform="translate(170.68,955.8) rotate(-90)" font-size="5.5" class="rc" text-anchor="end">FemaleGut2</text>
<text transform="translate(181.58,955.8) rotate(-90)" font-size="5.5" class="rc" text-anchor="end">FemaleGut3</text>
<text transform="translate(192.48,955.8) rotate(-90)" font-size="5.5" class="rc" text-anchor="end">MaleLiver1</text>
<text transform="translate(203.37,955.8) rotate(-90)" font-size="5.5" class="rc" text-anchor="end">MaleLiver2</text>
<text transform="translate(214.27,955.8) rotate(-90)" font-size="5.5" class="rc" text-anchor="end">MaleLiver3</text>
<text transform="translate(225.17,955.8) rotate(-90)" font-size="5.5" class="rc" text-anchor="end">FemaleLiver1</text>
<text transform="translate(236.07,955.8) rotate(-90)" font-size="5.5" class="rc" text-anchor="end">FemaleLiver2</text>
<text transform="translate(246.97,955.8) rotate(-90)" font-size="5.5" class="rc" text-anchor="end">FemaleLiver3</text>
<text transform="translate(257.87,955.8) rotate(-90)" font-size="5.5" class="rc" text-anchor="end">Ovary1</text>
<text transform="translate(268.76,955.8) rotate(-90)" font-size="5.5" class="rc" text-anchor="end">Ovary2</text>
<text transform="translate(279.66,955.8) rotate(-90)" font-size="5.5" class="rc" text-anchor="end">Ovary3</text>
<text transform="translate(290.56,955.8) rotate(-90)" font-size="5.5" class="rc" text-anchor="end">Testis1</text>
<text transform="translate(301.46,955.8) rotate(-90)" font-size="5.5" class="rc" text-anchor="end">Testis2</text>
<text transform="translate(312.36,955.8) rotate(-90)" font-size="5.5" class="rc" text-anchor="end">Testis3</text>
<text transform="translate(323.26,955.8) rotate(-90)" font-size="5.5" class="rc" text-anchor="end">Eye1</text>
<text transform="translate(334.16,955.8) rotate(-90)" font-size="5.5" class="rc" text-anchor="end">Eye2</text>
<text transform="translate(345.05,955.8) rotate(-90)" font-size="5.5" class="rc" text-anchor="end">Eye3</text>
<text transform="translate(355.95,955.8) rotate(-90)" font-size="5.5" class="rc" text-anchor="end">Heart1</text>
<text transform="translate(366.85,955.8) rotate(-90)" font-size="5.5" class="rc" text-anchor="end">Heart2</text>
<defs><linearGradient id="ck" x1="0" x2="1" y1="0" y2="0"><stop offset="0" stop-color="#00ff00"/><stop offset="0.5" stop-color="#000"/><stop offset="1" stop-color="#ff0000"/></linearGradient></defs>
<rect x="440.5" y="622.9" width="59" height="52.2" fill="url(#ck)"/>
<text x="470" y="621.1" font-size="3.7" class="ck" text-anchor="middle" textLength="16" lengthAdjust="spacingAndGlyphs">Color Key</text>
<line x1="446.5" y1="675.1" x2="446.5" y2="677" stroke="#000" stroke-width="0.5"/>
<text x="446.5" y="681.5" font-size="3.7" class="ck" text-anchor="middle">-4</text>
<line x1="458.4" y1="675.1" x2="458.4" y2="677" stroke="#000" stroke-width="0.5"/>
<text x="458.4" y="681.5" font-size="3.7" class="ck" text-anchor="middle">-2</text>
<line x1="470" y1="675.1" x2="470" y2="677" stroke="#000" stroke-width="0.5"/>
<text x="470" y="681.5" font-size="3.7" class="ck" text-anchor="middle">0</text>
<line x1="481.8" y1="675.1" x2="481.8" y2="677" stroke="#000" stroke-width="0.5"/>
<text x="481.8" y="681.5" font-size="3.7" class="ck" text-anchor="middle">2</text>
<line x1="493.7" y1="675.1" x2="493.7" y2="677" stroke="#000" stroke-width="0.5"/>
<text x="493.7" y="681.5" font-size="3.7" class="ck" text-anchor="middle">4</text>
<text x="470" y="686.4" font-size="3.7" class="ck" text-anchor="middle" textLength="17.7" lengthAdjust="spacingAndGlyphs">Row Z-Score</text>
</svg>
</body></html>
